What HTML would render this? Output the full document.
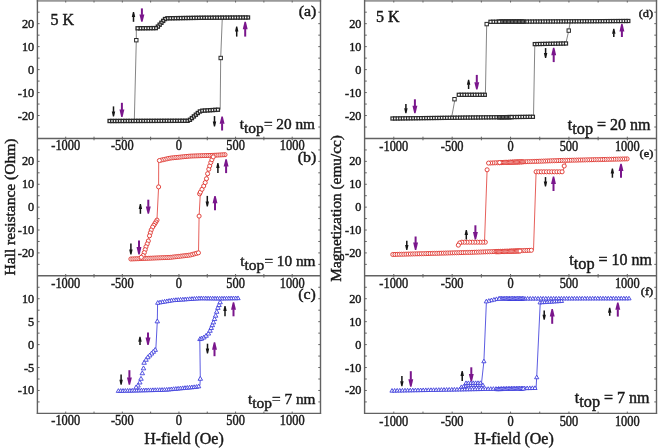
<!DOCTYPE html>
<html><head><meta charset="utf-8"><style>
html,body{margin:0;padding:0;background:#fff;}
body{width:658px;height:448px;overflow:hidden;}
svg{display:block;}
text{font-family:"Liberation Serif",serif;fill:#1a1a1a;stroke:#1a1a1a;stroke-width:0.45px;}
</style></head><body>
<svg width="658" height="448" viewBox="0 0 658 448">
<defs><filter id="bl" x="0" y="0" width="658" height="448" filterUnits="userSpaceOnUse"><feGaussianBlur stdDeviation="0.4"/></filter></defs>
<rect width="658" height="448" fill="#fff"/>
<g filter="url(#bl)">
<rect width="658" height="448" fill="#fff"/>
<line x1="36.80" y1="0.90" x2="321.10" y2="0.90" stroke="#999" stroke-width="1.8" opacity="1"/>
<line x1="37.40" y1="0.00" x2="37.40" y2="414.00" stroke="#626262" stroke-width="1.4" opacity="1"/>
<line x1="320.50" y1="0.00" x2="320.50" y2="414.00" stroke="#626262" stroke-width="1.4" opacity="1"/>
<line x1="36.80" y1="413.40" x2="321.10" y2="413.40" stroke="#626262" stroke-width="1.4" opacity="1"/>
<line x1="37.40" y1="138.50" x2="320.50" y2="138.50" stroke="#626262" stroke-width="1.4" opacity="1"/>
<line x1="37.40" y1="275.80" x2="320.50" y2="275.80" stroke="#626262" stroke-width="1.4" opacity="1"/>
<line x1="65.71" y1="138.50" x2="65.71" y2="136.70" stroke="#626262" stroke-width="1.0" opacity="1"/>
<line x1="65.71" y1="0.70" x2="65.71" y2="2.50" stroke="#626262" stroke-width="1.0" opacity="1"/>
<line x1="94.02" y1="138.50" x2="94.02" y2="136.70" stroke="#626262" stroke-width="1.0" opacity="1"/>
<line x1="94.02" y1="0.70" x2="94.02" y2="2.50" stroke="#626262" stroke-width="1.0" opacity="1"/>
<line x1="122.33" y1="138.50" x2="122.33" y2="136.70" stroke="#626262" stroke-width="1.0" opacity="1"/>
<line x1="122.33" y1="0.70" x2="122.33" y2="2.50" stroke="#626262" stroke-width="1.0" opacity="1"/>
<line x1="150.64" y1="138.50" x2="150.64" y2="136.70" stroke="#626262" stroke-width="1.0" opacity="1"/>
<line x1="150.64" y1="0.70" x2="150.64" y2="2.50" stroke="#626262" stroke-width="1.0" opacity="1"/>
<line x1="178.95" y1="138.50" x2="178.95" y2="136.70" stroke="#626262" stroke-width="1.0" opacity="1"/>
<line x1="178.95" y1="0.70" x2="178.95" y2="2.50" stroke="#626262" stroke-width="1.0" opacity="1"/>
<line x1="207.26" y1="138.50" x2="207.26" y2="136.70" stroke="#626262" stroke-width="1.0" opacity="1"/>
<line x1="207.26" y1="0.70" x2="207.26" y2="2.50" stroke="#626262" stroke-width="1.0" opacity="1"/>
<line x1="235.57" y1="138.50" x2="235.57" y2="136.70" stroke="#626262" stroke-width="1.0" opacity="1"/>
<line x1="235.57" y1="0.70" x2="235.57" y2="2.50" stroke="#626262" stroke-width="1.0" opacity="1"/>
<line x1="263.88" y1="138.50" x2="263.88" y2="136.70" stroke="#626262" stroke-width="1.0" opacity="1"/>
<line x1="263.88" y1="0.70" x2="263.88" y2="2.50" stroke="#626262" stroke-width="1.0" opacity="1"/>
<line x1="292.19" y1="138.50" x2="292.19" y2="136.70" stroke="#626262" stroke-width="1.0" opacity="1"/>
<line x1="292.19" y1="0.70" x2="292.19" y2="2.50" stroke="#626262" stroke-width="1.0" opacity="1"/>
<line x1="37.40" y1="127.02" x2="39.60" y2="127.02" stroke="#626262" stroke-width="1.0" opacity="1"/>
<line x1="320.50" y1="127.02" x2="318.30" y2="127.02" stroke="#626262" stroke-width="1.0" opacity="1"/>
<line x1="37.40" y1="115.53" x2="39.60" y2="115.53" stroke="#626262" stroke-width="1.0" opacity="1"/>
<line x1="320.50" y1="115.53" x2="318.30" y2="115.53" stroke="#626262" stroke-width="1.0" opacity="1"/>
<line x1="37.40" y1="104.05" x2="39.60" y2="104.05" stroke="#626262" stroke-width="1.0" opacity="1"/>
<line x1="320.50" y1="104.05" x2="318.30" y2="104.05" stroke="#626262" stroke-width="1.0" opacity="1"/>
<line x1="37.40" y1="92.57" x2="39.60" y2="92.57" stroke="#626262" stroke-width="1.0" opacity="1"/>
<line x1="320.50" y1="92.57" x2="318.30" y2="92.57" stroke="#626262" stroke-width="1.0" opacity="1"/>
<line x1="37.40" y1="81.08" x2="39.60" y2="81.08" stroke="#626262" stroke-width="1.0" opacity="1"/>
<line x1="320.50" y1="81.08" x2="318.30" y2="81.08" stroke="#626262" stroke-width="1.0" opacity="1"/>
<line x1="37.40" y1="69.60" x2="39.60" y2="69.60" stroke="#626262" stroke-width="1.0" opacity="1"/>
<line x1="320.50" y1="69.60" x2="318.30" y2="69.60" stroke="#626262" stroke-width="1.0" opacity="1"/>
<line x1="37.40" y1="58.12" x2="39.60" y2="58.12" stroke="#626262" stroke-width="1.0" opacity="1"/>
<line x1="320.50" y1="58.12" x2="318.30" y2="58.12" stroke="#626262" stroke-width="1.0" opacity="1"/>
<line x1="37.40" y1="46.63" x2="39.60" y2="46.63" stroke="#626262" stroke-width="1.0" opacity="1"/>
<line x1="320.50" y1="46.63" x2="318.30" y2="46.63" stroke="#626262" stroke-width="1.0" opacity="1"/>
<line x1="37.40" y1="35.15" x2="39.60" y2="35.15" stroke="#626262" stroke-width="1.0" opacity="1"/>
<line x1="320.50" y1="35.15" x2="318.30" y2="35.15" stroke="#626262" stroke-width="1.0" opacity="1"/>
<line x1="37.40" y1="23.67" x2="39.60" y2="23.67" stroke="#626262" stroke-width="1.0" opacity="1"/>
<line x1="320.50" y1="23.67" x2="318.30" y2="23.67" stroke="#626262" stroke-width="1.0" opacity="1"/>
<line x1="37.40" y1="12.18" x2="39.60" y2="12.18" stroke="#626262" stroke-width="1.0" opacity="1"/>
<line x1="320.50" y1="12.18" x2="318.30" y2="12.18" stroke="#626262" stroke-width="1.0" opacity="1"/>
<text transform="translate(34.20,27.67) scale(0.95,1)" font-size="12.9" text-anchor="end">20</text>
<text transform="translate(34.20,50.63) scale(0.95,1)" font-size="12.9" text-anchor="end">10</text>
<text transform="translate(34.20,73.60) scale(0.95,1)" font-size="12.9" text-anchor="end">0</text>
<text transform="translate(34.20,96.57) scale(0.95,1)" font-size="12.9" text-anchor="end">-10</text>
<text transform="translate(34.20,119.53) scale(0.95,1)" font-size="12.9" text-anchor="end">-20</text>
<text transform="translate(65.71,150.30) scale(0.91,1)" font-size="13.6" text-anchor="middle">-1000</text>
<text transform="translate(122.33,150.30) scale(0.91,1)" font-size="13.6" text-anchor="middle">-500</text>
<text transform="translate(178.95,150.30) scale(0.91,1)" font-size="13.6" text-anchor="middle">0</text>
<text transform="translate(235.57,150.30) scale(0.91,1)" font-size="13.6" text-anchor="middle">500</text>
<text transform="translate(292.19,150.30) scale(0.91,1)" font-size="13.6" text-anchor="middle">1000</text>
<line x1="65.71" y1="275.80" x2="65.71" y2="274.00" stroke="#626262" stroke-width="1.0" opacity="1"/>
<line x1="65.71" y1="138.50" x2="65.71" y2="140.30" stroke="#626262" stroke-width="1.0" opacity="1"/>
<line x1="94.02" y1="275.80" x2="94.02" y2="274.00" stroke="#626262" stroke-width="1.0" opacity="1"/>
<line x1="94.02" y1="138.50" x2="94.02" y2="140.30" stroke="#626262" stroke-width="1.0" opacity="1"/>
<line x1="122.33" y1="275.80" x2="122.33" y2="274.00" stroke="#626262" stroke-width="1.0" opacity="1"/>
<line x1="122.33" y1="138.50" x2="122.33" y2="140.30" stroke="#626262" stroke-width="1.0" opacity="1"/>
<line x1="150.64" y1="275.80" x2="150.64" y2="274.00" stroke="#626262" stroke-width="1.0" opacity="1"/>
<line x1="150.64" y1="138.50" x2="150.64" y2="140.30" stroke="#626262" stroke-width="1.0" opacity="1"/>
<line x1="178.95" y1="275.80" x2="178.95" y2="274.00" stroke="#626262" stroke-width="1.0" opacity="1"/>
<line x1="178.95" y1="138.50" x2="178.95" y2="140.30" stroke="#626262" stroke-width="1.0" opacity="1"/>
<line x1="207.26" y1="275.80" x2="207.26" y2="274.00" stroke="#626262" stroke-width="1.0" opacity="1"/>
<line x1="207.26" y1="138.50" x2="207.26" y2="140.30" stroke="#626262" stroke-width="1.0" opacity="1"/>
<line x1="235.57" y1="275.80" x2="235.57" y2="274.00" stroke="#626262" stroke-width="1.0" opacity="1"/>
<line x1="235.57" y1="138.50" x2="235.57" y2="140.30" stroke="#626262" stroke-width="1.0" opacity="1"/>
<line x1="263.88" y1="275.80" x2="263.88" y2="274.00" stroke="#626262" stroke-width="1.0" opacity="1"/>
<line x1="263.88" y1="138.50" x2="263.88" y2="140.30" stroke="#626262" stroke-width="1.0" opacity="1"/>
<line x1="292.19" y1="275.80" x2="292.19" y2="274.00" stroke="#626262" stroke-width="1.0" opacity="1"/>
<line x1="292.19" y1="138.50" x2="292.19" y2="140.30" stroke="#626262" stroke-width="1.0" opacity="1"/>
<line x1="37.40" y1="264.36" x2="39.60" y2="264.36" stroke="#626262" stroke-width="1.0" opacity="1"/>
<line x1="320.50" y1="264.36" x2="318.30" y2="264.36" stroke="#626262" stroke-width="1.0" opacity="1"/>
<line x1="37.40" y1="252.92" x2="39.60" y2="252.92" stroke="#626262" stroke-width="1.0" opacity="1"/>
<line x1="320.50" y1="252.92" x2="318.30" y2="252.92" stroke="#626262" stroke-width="1.0" opacity="1"/>
<line x1="37.40" y1="241.48" x2="39.60" y2="241.48" stroke="#626262" stroke-width="1.0" opacity="1"/>
<line x1="320.50" y1="241.48" x2="318.30" y2="241.48" stroke="#626262" stroke-width="1.0" opacity="1"/>
<line x1="37.40" y1="230.03" x2="39.60" y2="230.03" stroke="#626262" stroke-width="1.0" opacity="1"/>
<line x1="320.50" y1="230.03" x2="318.30" y2="230.03" stroke="#626262" stroke-width="1.0" opacity="1"/>
<line x1="37.40" y1="218.59" x2="39.60" y2="218.59" stroke="#626262" stroke-width="1.0" opacity="1"/>
<line x1="320.50" y1="218.59" x2="318.30" y2="218.59" stroke="#626262" stroke-width="1.0" opacity="1"/>
<line x1="37.40" y1="207.15" x2="39.60" y2="207.15" stroke="#626262" stroke-width="1.0" opacity="1"/>
<line x1="320.50" y1="207.15" x2="318.30" y2="207.15" stroke="#626262" stroke-width="1.0" opacity="1"/>
<line x1="37.40" y1="195.71" x2="39.60" y2="195.71" stroke="#626262" stroke-width="1.0" opacity="1"/>
<line x1="320.50" y1="195.71" x2="318.30" y2="195.71" stroke="#626262" stroke-width="1.0" opacity="1"/>
<line x1="37.40" y1="184.27" x2="39.60" y2="184.27" stroke="#626262" stroke-width="1.0" opacity="1"/>
<line x1="320.50" y1="184.27" x2="318.30" y2="184.27" stroke="#626262" stroke-width="1.0" opacity="1"/>
<line x1="37.40" y1="172.82" x2="39.60" y2="172.82" stroke="#626262" stroke-width="1.0" opacity="1"/>
<line x1="320.50" y1="172.82" x2="318.30" y2="172.82" stroke="#626262" stroke-width="1.0" opacity="1"/>
<line x1="37.40" y1="161.38" x2="39.60" y2="161.38" stroke="#626262" stroke-width="1.0" opacity="1"/>
<line x1="320.50" y1="161.38" x2="318.30" y2="161.38" stroke="#626262" stroke-width="1.0" opacity="1"/>
<line x1="37.40" y1="149.94" x2="39.60" y2="149.94" stroke="#626262" stroke-width="1.0" opacity="1"/>
<line x1="320.50" y1="149.94" x2="318.30" y2="149.94" stroke="#626262" stroke-width="1.0" opacity="1"/>
<text transform="translate(34.20,165.38) scale(0.95,1)" font-size="12.9" text-anchor="end">20</text>
<text transform="translate(34.20,188.27) scale(0.95,1)" font-size="12.9" text-anchor="end">10</text>
<text transform="translate(34.20,211.15) scale(0.95,1)" font-size="12.9" text-anchor="end">0</text>
<text transform="translate(34.20,234.03) scale(0.95,1)" font-size="12.9" text-anchor="end">-10</text>
<text transform="translate(34.20,256.92) scale(0.95,1)" font-size="12.9" text-anchor="end">-20</text>
<text transform="translate(65.71,287.60) scale(0.91,1)" font-size="13.6" text-anchor="middle">-1000</text>
<text transform="translate(122.33,287.60) scale(0.91,1)" font-size="13.6" text-anchor="middle">-500</text>
<text transform="translate(178.95,287.60) scale(0.91,1)" font-size="13.6" text-anchor="middle">0</text>
<text transform="translate(235.57,287.60) scale(0.91,1)" font-size="13.6" text-anchor="middle">500</text>
<text transform="translate(292.19,287.60) scale(0.91,1)" font-size="13.6" text-anchor="middle">1000</text>
<line x1="65.71" y1="413.40" x2="65.71" y2="411.60" stroke="#626262" stroke-width="1.0" opacity="1"/>
<line x1="65.71" y1="275.80" x2="65.71" y2="277.60" stroke="#626262" stroke-width="1.0" opacity="1"/>
<line x1="94.02" y1="413.40" x2="94.02" y2="411.60" stroke="#626262" stroke-width="1.0" opacity="1"/>
<line x1="94.02" y1="275.80" x2="94.02" y2="277.60" stroke="#626262" stroke-width="1.0" opacity="1"/>
<line x1="122.33" y1="413.40" x2="122.33" y2="411.60" stroke="#626262" stroke-width="1.0" opacity="1"/>
<line x1="122.33" y1="275.80" x2="122.33" y2="277.60" stroke="#626262" stroke-width="1.0" opacity="1"/>
<line x1="150.64" y1="413.40" x2="150.64" y2="411.60" stroke="#626262" stroke-width="1.0" opacity="1"/>
<line x1="150.64" y1="275.80" x2="150.64" y2="277.60" stroke="#626262" stroke-width="1.0" opacity="1"/>
<line x1="178.95" y1="413.40" x2="178.95" y2="411.60" stroke="#626262" stroke-width="1.0" opacity="1"/>
<line x1="178.95" y1="275.80" x2="178.95" y2="277.60" stroke="#626262" stroke-width="1.0" opacity="1"/>
<line x1="207.26" y1="413.40" x2="207.26" y2="411.60" stroke="#626262" stroke-width="1.0" opacity="1"/>
<line x1="207.26" y1="275.80" x2="207.26" y2="277.60" stroke="#626262" stroke-width="1.0" opacity="1"/>
<line x1="235.57" y1="413.40" x2="235.57" y2="411.60" stroke="#626262" stroke-width="1.0" opacity="1"/>
<line x1="235.57" y1="275.80" x2="235.57" y2="277.60" stroke="#626262" stroke-width="1.0" opacity="1"/>
<line x1="263.88" y1="413.40" x2="263.88" y2="411.60" stroke="#626262" stroke-width="1.0" opacity="1"/>
<line x1="263.88" y1="275.80" x2="263.88" y2="277.60" stroke="#626262" stroke-width="1.0" opacity="1"/>
<line x1="292.19" y1="413.40" x2="292.19" y2="411.60" stroke="#626262" stroke-width="1.0" opacity="1"/>
<line x1="292.19" y1="275.80" x2="292.19" y2="277.60" stroke="#626262" stroke-width="1.0" opacity="1"/>
<line x1="37.40" y1="401.93" x2="39.60" y2="401.93" stroke="#626262" stroke-width="1.0" opacity="1"/>
<line x1="320.50" y1="401.93" x2="318.30" y2="401.93" stroke="#626262" stroke-width="1.0" opacity="1"/>
<line x1="37.40" y1="390.47" x2="39.60" y2="390.47" stroke="#626262" stroke-width="1.0" opacity="1"/>
<line x1="320.50" y1="390.47" x2="318.30" y2="390.47" stroke="#626262" stroke-width="1.0" opacity="1"/>
<line x1="37.40" y1="379.00" x2="39.60" y2="379.00" stroke="#626262" stroke-width="1.0" opacity="1"/>
<line x1="320.50" y1="379.00" x2="318.30" y2="379.00" stroke="#626262" stroke-width="1.0" opacity="1"/>
<line x1="37.40" y1="367.53" x2="39.60" y2="367.53" stroke="#626262" stroke-width="1.0" opacity="1"/>
<line x1="320.50" y1="367.53" x2="318.30" y2="367.53" stroke="#626262" stroke-width="1.0" opacity="1"/>
<line x1="37.40" y1="356.07" x2="39.60" y2="356.07" stroke="#626262" stroke-width="1.0" opacity="1"/>
<line x1="320.50" y1="356.07" x2="318.30" y2="356.07" stroke="#626262" stroke-width="1.0" opacity="1"/>
<line x1="37.40" y1="344.60" x2="39.60" y2="344.60" stroke="#626262" stroke-width="1.0" opacity="1"/>
<line x1="320.50" y1="344.60" x2="318.30" y2="344.60" stroke="#626262" stroke-width="1.0" opacity="1"/>
<line x1="37.40" y1="333.13" x2="39.60" y2="333.13" stroke="#626262" stroke-width="1.0" opacity="1"/>
<line x1="320.50" y1="333.13" x2="318.30" y2="333.13" stroke="#626262" stroke-width="1.0" opacity="1"/>
<line x1="37.40" y1="321.67" x2="39.60" y2="321.67" stroke="#626262" stroke-width="1.0" opacity="1"/>
<line x1="320.50" y1="321.67" x2="318.30" y2="321.67" stroke="#626262" stroke-width="1.0" opacity="1"/>
<line x1="37.40" y1="310.20" x2="39.60" y2="310.20" stroke="#626262" stroke-width="1.0" opacity="1"/>
<line x1="320.50" y1="310.20" x2="318.30" y2="310.20" stroke="#626262" stroke-width="1.0" opacity="1"/>
<line x1="37.40" y1="298.73" x2="39.60" y2="298.73" stroke="#626262" stroke-width="1.0" opacity="1"/>
<line x1="320.50" y1="298.73" x2="318.30" y2="298.73" stroke="#626262" stroke-width="1.0" opacity="1"/>
<line x1="37.40" y1="287.27" x2="39.60" y2="287.27" stroke="#626262" stroke-width="1.0" opacity="1"/>
<line x1="320.50" y1="287.27" x2="318.30" y2="287.27" stroke="#626262" stroke-width="1.0" opacity="1"/>
<text transform="translate(34.20,302.73) scale(0.95,1)" font-size="12.9" text-anchor="end">10</text>
<text transform="translate(34.20,325.67) scale(0.95,1)" font-size="12.9" text-anchor="end">5</text>
<text transform="translate(34.20,348.60) scale(0.95,1)" font-size="12.9" text-anchor="end">0</text>
<text transform="translate(34.20,371.53) scale(0.95,1)" font-size="12.9" text-anchor="end">-5</text>
<text transform="translate(34.20,394.47) scale(0.95,1)" font-size="12.9" text-anchor="end">-10</text>
<text transform="translate(65.71,425.20) scale(0.91,1)" font-size="13.6" text-anchor="middle">-1000</text>
<text transform="translate(122.33,425.20) scale(0.91,1)" font-size="13.6" text-anchor="middle">-500</text>
<text transform="translate(178.95,425.20) scale(0.91,1)" font-size="13.6" text-anchor="middle">0</text>
<text transform="translate(235.57,425.20) scale(0.91,1)" font-size="13.6" text-anchor="middle">500</text>
<text transform="translate(292.19,425.20) scale(0.91,1)" font-size="13.6" text-anchor="middle">1000</text>
<line x1="364.00" y1="0.90" x2="657.10" y2="0.90" stroke="#999" stroke-width="1.8" opacity="1"/>
<line x1="364.60" y1="0.00" x2="364.60" y2="414.00" stroke="#626262" stroke-width="1.4" opacity="1"/>
<line x1="656.50" y1="0.00" x2="656.50" y2="414.00" stroke="#626262" stroke-width="1.4" opacity="1"/>
<line x1="364.00" y1="413.40" x2="657.10" y2="413.40" stroke="#626262" stroke-width="1.4" opacity="1"/>
<line x1="364.60" y1="138.50" x2="656.50" y2="138.50" stroke="#626262" stroke-width="1.4" opacity="1"/>
<line x1="364.60" y1="275.80" x2="656.50" y2="275.80" stroke="#626262" stroke-width="1.4" opacity="1"/>
<line x1="393.79" y1="138.50" x2="393.79" y2="136.70" stroke="#626262" stroke-width="1.0" opacity="1"/>
<line x1="393.79" y1="0.70" x2="393.79" y2="2.50" stroke="#626262" stroke-width="1.0" opacity="1"/>
<line x1="422.98" y1="138.50" x2="422.98" y2="136.70" stroke="#626262" stroke-width="1.0" opacity="1"/>
<line x1="422.98" y1="0.70" x2="422.98" y2="2.50" stroke="#626262" stroke-width="1.0" opacity="1"/>
<line x1="452.17" y1="138.50" x2="452.17" y2="136.70" stroke="#626262" stroke-width="1.0" opacity="1"/>
<line x1="452.17" y1="0.70" x2="452.17" y2="2.50" stroke="#626262" stroke-width="1.0" opacity="1"/>
<line x1="481.36" y1="138.50" x2="481.36" y2="136.70" stroke="#626262" stroke-width="1.0" opacity="1"/>
<line x1="481.36" y1="0.70" x2="481.36" y2="2.50" stroke="#626262" stroke-width="1.0" opacity="1"/>
<line x1="510.55" y1="138.50" x2="510.55" y2="136.70" stroke="#626262" stroke-width="1.0" opacity="1"/>
<line x1="510.55" y1="0.70" x2="510.55" y2="2.50" stroke="#626262" stroke-width="1.0" opacity="1"/>
<line x1="539.74" y1="138.50" x2="539.74" y2="136.70" stroke="#626262" stroke-width="1.0" opacity="1"/>
<line x1="539.74" y1="0.70" x2="539.74" y2="2.50" stroke="#626262" stroke-width="1.0" opacity="1"/>
<line x1="568.93" y1="138.50" x2="568.93" y2="136.70" stroke="#626262" stroke-width="1.0" opacity="1"/>
<line x1="568.93" y1="0.70" x2="568.93" y2="2.50" stroke="#626262" stroke-width="1.0" opacity="1"/>
<line x1="598.12" y1="138.50" x2="598.12" y2="136.70" stroke="#626262" stroke-width="1.0" opacity="1"/>
<line x1="598.12" y1="0.70" x2="598.12" y2="2.50" stroke="#626262" stroke-width="1.0" opacity="1"/>
<line x1="627.31" y1="138.50" x2="627.31" y2="136.70" stroke="#626262" stroke-width="1.0" opacity="1"/>
<line x1="627.31" y1="0.70" x2="627.31" y2="2.50" stroke="#626262" stroke-width="1.0" opacity="1"/>
<line x1="364.60" y1="127.02" x2="366.80" y2="127.02" stroke="#626262" stroke-width="1.0" opacity="1"/>
<line x1="656.50" y1="127.02" x2="654.30" y2="127.02" stroke="#626262" stroke-width="1.0" opacity="1"/>
<line x1="364.60" y1="115.53" x2="366.80" y2="115.53" stroke="#626262" stroke-width="1.0" opacity="1"/>
<line x1="656.50" y1="115.53" x2="654.30" y2="115.53" stroke="#626262" stroke-width="1.0" opacity="1"/>
<line x1="364.60" y1="104.05" x2="366.80" y2="104.05" stroke="#626262" stroke-width="1.0" opacity="1"/>
<line x1="656.50" y1="104.05" x2="654.30" y2="104.05" stroke="#626262" stroke-width="1.0" opacity="1"/>
<line x1="364.60" y1="92.57" x2="366.80" y2="92.57" stroke="#626262" stroke-width="1.0" opacity="1"/>
<line x1="656.50" y1="92.57" x2="654.30" y2="92.57" stroke="#626262" stroke-width="1.0" opacity="1"/>
<line x1="364.60" y1="81.08" x2="366.80" y2="81.08" stroke="#626262" stroke-width="1.0" opacity="1"/>
<line x1="656.50" y1="81.08" x2="654.30" y2="81.08" stroke="#626262" stroke-width="1.0" opacity="1"/>
<line x1="364.60" y1="69.60" x2="366.80" y2="69.60" stroke="#626262" stroke-width="1.0" opacity="1"/>
<line x1="656.50" y1="69.60" x2="654.30" y2="69.60" stroke="#626262" stroke-width="1.0" opacity="1"/>
<line x1="364.60" y1="58.12" x2="366.80" y2="58.12" stroke="#626262" stroke-width="1.0" opacity="1"/>
<line x1="656.50" y1="58.12" x2="654.30" y2="58.12" stroke="#626262" stroke-width="1.0" opacity="1"/>
<line x1="364.60" y1="46.63" x2="366.80" y2="46.63" stroke="#626262" stroke-width="1.0" opacity="1"/>
<line x1="656.50" y1="46.63" x2="654.30" y2="46.63" stroke="#626262" stroke-width="1.0" opacity="1"/>
<line x1="364.60" y1="35.15" x2="366.80" y2="35.15" stroke="#626262" stroke-width="1.0" opacity="1"/>
<line x1="656.50" y1="35.15" x2="654.30" y2="35.15" stroke="#626262" stroke-width="1.0" opacity="1"/>
<line x1="364.60" y1="23.67" x2="366.80" y2="23.67" stroke="#626262" stroke-width="1.0" opacity="1"/>
<line x1="656.50" y1="23.67" x2="654.30" y2="23.67" stroke="#626262" stroke-width="1.0" opacity="1"/>
<line x1="364.60" y1="12.18" x2="366.80" y2="12.18" stroke="#626262" stroke-width="1.0" opacity="1"/>
<line x1="656.50" y1="12.18" x2="654.30" y2="12.18" stroke="#626262" stroke-width="1.0" opacity="1"/>
<text transform="translate(361.40,27.67) scale(0.95,1)" font-size="12.9" text-anchor="end">20</text>
<text transform="translate(361.40,50.63) scale(0.95,1)" font-size="12.9" text-anchor="end">10</text>
<text transform="translate(361.40,73.60) scale(0.95,1)" font-size="12.9" text-anchor="end">0</text>
<text transform="translate(361.40,96.57) scale(0.95,1)" font-size="12.9" text-anchor="end">-10</text>
<text transform="translate(361.40,119.53) scale(0.95,1)" font-size="12.9" text-anchor="end">-20</text>
<text transform="translate(393.79,150.90) scale(0.91,1)" font-size="13.6" text-anchor="middle">-1000</text>
<text transform="translate(452.17,150.90) scale(0.91,1)" font-size="13.6" text-anchor="middle">-500</text>
<text transform="translate(510.55,150.90) scale(0.91,1)" font-size="13.6" text-anchor="middle">0</text>
<text transform="translate(568.93,150.90) scale(0.91,1)" font-size="13.6" text-anchor="middle">500</text>
<text transform="translate(627.31,150.90) scale(0.91,1)" font-size="13.6" text-anchor="middle">1000</text>
<line x1="393.79" y1="275.80" x2="393.79" y2="274.00" stroke="#626262" stroke-width="1.0" opacity="1"/>
<line x1="393.79" y1="138.50" x2="393.79" y2="140.30" stroke="#626262" stroke-width="1.0" opacity="1"/>
<line x1="422.98" y1="275.80" x2="422.98" y2="274.00" stroke="#626262" stroke-width="1.0" opacity="1"/>
<line x1="422.98" y1="138.50" x2="422.98" y2="140.30" stroke="#626262" stroke-width="1.0" opacity="1"/>
<line x1="452.17" y1="275.80" x2="452.17" y2="274.00" stroke="#626262" stroke-width="1.0" opacity="1"/>
<line x1="452.17" y1="138.50" x2="452.17" y2="140.30" stroke="#626262" stroke-width="1.0" opacity="1"/>
<line x1="481.36" y1="275.80" x2="481.36" y2="274.00" stroke="#626262" stroke-width="1.0" opacity="1"/>
<line x1="481.36" y1="138.50" x2="481.36" y2="140.30" stroke="#626262" stroke-width="1.0" opacity="1"/>
<line x1="510.55" y1="275.80" x2="510.55" y2="274.00" stroke="#626262" stroke-width="1.0" opacity="1"/>
<line x1="510.55" y1="138.50" x2="510.55" y2="140.30" stroke="#626262" stroke-width="1.0" opacity="1"/>
<line x1="539.74" y1="275.80" x2="539.74" y2="274.00" stroke="#626262" stroke-width="1.0" opacity="1"/>
<line x1="539.74" y1="138.50" x2="539.74" y2="140.30" stroke="#626262" stroke-width="1.0" opacity="1"/>
<line x1="568.93" y1="275.80" x2="568.93" y2="274.00" stroke="#626262" stroke-width="1.0" opacity="1"/>
<line x1="568.93" y1="138.50" x2="568.93" y2="140.30" stroke="#626262" stroke-width="1.0" opacity="1"/>
<line x1="598.12" y1="275.80" x2="598.12" y2="274.00" stroke="#626262" stroke-width="1.0" opacity="1"/>
<line x1="598.12" y1="138.50" x2="598.12" y2="140.30" stroke="#626262" stroke-width="1.0" opacity="1"/>
<line x1="627.31" y1="275.80" x2="627.31" y2="274.00" stroke="#626262" stroke-width="1.0" opacity="1"/>
<line x1="627.31" y1="138.50" x2="627.31" y2="140.30" stroke="#626262" stroke-width="1.0" opacity="1"/>
<line x1="364.60" y1="264.36" x2="366.80" y2="264.36" stroke="#626262" stroke-width="1.0" opacity="1"/>
<line x1="656.50" y1="264.36" x2="654.30" y2="264.36" stroke="#626262" stroke-width="1.0" opacity="1"/>
<line x1="364.60" y1="252.92" x2="366.80" y2="252.92" stroke="#626262" stroke-width="1.0" opacity="1"/>
<line x1="656.50" y1="252.92" x2="654.30" y2="252.92" stroke="#626262" stroke-width="1.0" opacity="1"/>
<line x1="364.60" y1="241.48" x2="366.80" y2="241.48" stroke="#626262" stroke-width="1.0" opacity="1"/>
<line x1="656.50" y1="241.48" x2="654.30" y2="241.48" stroke="#626262" stroke-width="1.0" opacity="1"/>
<line x1="364.60" y1="230.03" x2="366.80" y2="230.03" stroke="#626262" stroke-width="1.0" opacity="1"/>
<line x1="656.50" y1="230.03" x2="654.30" y2="230.03" stroke="#626262" stroke-width="1.0" opacity="1"/>
<line x1="364.60" y1="218.59" x2="366.80" y2="218.59" stroke="#626262" stroke-width="1.0" opacity="1"/>
<line x1="656.50" y1="218.59" x2="654.30" y2="218.59" stroke="#626262" stroke-width="1.0" opacity="1"/>
<line x1="364.60" y1="207.15" x2="366.80" y2="207.15" stroke="#626262" stroke-width="1.0" opacity="1"/>
<line x1="656.50" y1="207.15" x2="654.30" y2="207.15" stroke="#626262" stroke-width="1.0" opacity="1"/>
<line x1="364.60" y1="195.71" x2="366.80" y2="195.71" stroke="#626262" stroke-width="1.0" opacity="1"/>
<line x1="656.50" y1="195.71" x2="654.30" y2="195.71" stroke="#626262" stroke-width="1.0" opacity="1"/>
<line x1="364.60" y1="184.27" x2="366.80" y2="184.27" stroke="#626262" stroke-width="1.0" opacity="1"/>
<line x1="656.50" y1="184.27" x2="654.30" y2="184.27" stroke="#626262" stroke-width="1.0" opacity="1"/>
<line x1="364.60" y1="172.82" x2="366.80" y2="172.82" stroke="#626262" stroke-width="1.0" opacity="1"/>
<line x1="656.50" y1="172.82" x2="654.30" y2="172.82" stroke="#626262" stroke-width="1.0" opacity="1"/>
<line x1="364.60" y1="161.38" x2="366.80" y2="161.38" stroke="#626262" stroke-width="1.0" opacity="1"/>
<line x1="656.50" y1="161.38" x2="654.30" y2="161.38" stroke="#626262" stroke-width="1.0" opacity="1"/>
<line x1="364.60" y1="149.94" x2="366.80" y2="149.94" stroke="#626262" stroke-width="1.0" opacity="1"/>
<line x1="656.50" y1="149.94" x2="654.30" y2="149.94" stroke="#626262" stroke-width="1.0" opacity="1"/>
<text transform="translate(361.40,165.38) scale(0.95,1)" font-size="12.9" text-anchor="end">20</text>
<text transform="translate(361.40,188.27) scale(0.95,1)" font-size="12.9" text-anchor="end">10</text>
<text transform="translate(361.40,211.15) scale(0.95,1)" font-size="12.9" text-anchor="end">0</text>
<text transform="translate(361.40,234.03) scale(0.95,1)" font-size="12.9" text-anchor="end">-10</text>
<text transform="translate(361.40,256.92) scale(0.95,1)" font-size="12.9" text-anchor="end">-20</text>
<text transform="translate(393.79,288.20) scale(0.91,1)" font-size="13.6" text-anchor="middle">-1000</text>
<text transform="translate(452.17,288.20) scale(0.91,1)" font-size="13.6" text-anchor="middle">-500</text>
<text transform="translate(510.55,288.20) scale(0.91,1)" font-size="13.6" text-anchor="middle">0</text>
<text transform="translate(568.93,288.20) scale(0.91,1)" font-size="13.6" text-anchor="middle">500</text>
<text transform="translate(627.31,288.20) scale(0.91,1)" font-size="13.6" text-anchor="middle">1000</text>
<line x1="393.79" y1="413.40" x2="393.79" y2="411.60" stroke="#626262" stroke-width="1.0" opacity="1"/>
<line x1="393.79" y1="275.80" x2="393.79" y2="277.60" stroke="#626262" stroke-width="1.0" opacity="1"/>
<line x1="422.98" y1="413.40" x2="422.98" y2="411.60" stroke="#626262" stroke-width="1.0" opacity="1"/>
<line x1="422.98" y1="275.80" x2="422.98" y2="277.60" stroke="#626262" stroke-width="1.0" opacity="1"/>
<line x1="452.17" y1="413.40" x2="452.17" y2="411.60" stroke="#626262" stroke-width="1.0" opacity="1"/>
<line x1="452.17" y1="275.80" x2="452.17" y2="277.60" stroke="#626262" stroke-width="1.0" opacity="1"/>
<line x1="481.36" y1="413.40" x2="481.36" y2="411.60" stroke="#626262" stroke-width="1.0" opacity="1"/>
<line x1="481.36" y1="275.80" x2="481.36" y2="277.60" stroke="#626262" stroke-width="1.0" opacity="1"/>
<line x1="510.55" y1="413.40" x2="510.55" y2="411.60" stroke="#626262" stroke-width="1.0" opacity="1"/>
<line x1="510.55" y1="275.80" x2="510.55" y2="277.60" stroke="#626262" stroke-width="1.0" opacity="1"/>
<line x1="539.74" y1="413.40" x2="539.74" y2="411.60" stroke="#626262" stroke-width="1.0" opacity="1"/>
<line x1="539.74" y1="275.80" x2="539.74" y2="277.60" stroke="#626262" stroke-width="1.0" opacity="1"/>
<line x1="568.93" y1="413.40" x2="568.93" y2="411.60" stroke="#626262" stroke-width="1.0" opacity="1"/>
<line x1="568.93" y1="275.80" x2="568.93" y2="277.60" stroke="#626262" stroke-width="1.0" opacity="1"/>
<line x1="598.12" y1="413.40" x2="598.12" y2="411.60" stroke="#626262" stroke-width="1.0" opacity="1"/>
<line x1="598.12" y1="275.80" x2="598.12" y2="277.60" stroke="#626262" stroke-width="1.0" opacity="1"/>
<line x1="627.31" y1="413.40" x2="627.31" y2="411.60" stroke="#626262" stroke-width="1.0" opacity="1"/>
<line x1="627.31" y1="275.80" x2="627.31" y2="277.60" stroke="#626262" stroke-width="1.0" opacity="1"/>
<line x1="364.60" y1="401.93" x2="366.80" y2="401.93" stroke="#626262" stroke-width="1.0" opacity="1"/>
<line x1="656.50" y1="401.93" x2="654.30" y2="401.93" stroke="#626262" stroke-width="1.0" opacity="1"/>
<line x1="364.60" y1="390.47" x2="366.80" y2="390.47" stroke="#626262" stroke-width="1.0" opacity="1"/>
<line x1="656.50" y1="390.47" x2="654.30" y2="390.47" stroke="#626262" stroke-width="1.0" opacity="1"/>
<line x1="364.60" y1="379.00" x2="366.80" y2="379.00" stroke="#626262" stroke-width="1.0" opacity="1"/>
<line x1="656.50" y1="379.00" x2="654.30" y2="379.00" stroke="#626262" stroke-width="1.0" opacity="1"/>
<line x1="364.60" y1="367.53" x2="366.80" y2="367.53" stroke="#626262" stroke-width="1.0" opacity="1"/>
<line x1="656.50" y1="367.53" x2="654.30" y2="367.53" stroke="#626262" stroke-width="1.0" opacity="1"/>
<line x1="364.60" y1="356.07" x2="366.80" y2="356.07" stroke="#626262" stroke-width="1.0" opacity="1"/>
<line x1="656.50" y1="356.07" x2="654.30" y2="356.07" stroke="#626262" stroke-width="1.0" opacity="1"/>
<line x1="364.60" y1="344.60" x2="366.80" y2="344.60" stroke="#626262" stroke-width="1.0" opacity="1"/>
<line x1="656.50" y1="344.60" x2="654.30" y2="344.60" stroke="#626262" stroke-width="1.0" opacity="1"/>
<line x1="364.60" y1="333.13" x2="366.80" y2="333.13" stroke="#626262" stroke-width="1.0" opacity="1"/>
<line x1="656.50" y1="333.13" x2="654.30" y2="333.13" stroke="#626262" stroke-width="1.0" opacity="1"/>
<line x1="364.60" y1="321.67" x2="366.80" y2="321.67" stroke="#626262" stroke-width="1.0" opacity="1"/>
<line x1="656.50" y1="321.67" x2="654.30" y2="321.67" stroke="#626262" stroke-width="1.0" opacity="1"/>
<line x1="364.60" y1="310.20" x2="366.80" y2="310.20" stroke="#626262" stroke-width="1.0" opacity="1"/>
<line x1="656.50" y1="310.20" x2="654.30" y2="310.20" stroke="#626262" stroke-width="1.0" opacity="1"/>
<line x1="364.60" y1="298.73" x2="366.80" y2="298.73" stroke="#626262" stroke-width="1.0" opacity="1"/>
<line x1="656.50" y1="298.73" x2="654.30" y2="298.73" stroke="#626262" stroke-width="1.0" opacity="1"/>
<line x1="364.60" y1="287.27" x2="366.80" y2="287.27" stroke="#626262" stroke-width="1.0" opacity="1"/>
<line x1="656.50" y1="287.27" x2="654.30" y2="287.27" stroke="#626262" stroke-width="1.0" opacity="1"/>
<text transform="translate(361.40,302.73) scale(0.95,1)" font-size="12.9" text-anchor="end">20</text>
<text transform="translate(361.40,325.67) scale(0.95,1)" font-size="12.9" text-anchor="end">10</text>
<text transform="translate(361.40,348.60) scale(0.95,1)" font-size="12.9" text-anchor="end">0</text>
<text transform="translate(361.40,371.53) scale(0.95,1)" font-size="12.9" text-anchor="end">-10</text>
<text transform="translate(361.40,394.47) scale(0.95,1)" font-size="12.9" text-anchor="end">-20</text>
<text transform="translate(393.79,425.80) scale(0.91,1)" font-size="13.6" text-anchor="middle">-1000</text>
<text transform="translate(452.17,425.80) scale(0.91,1)" font-size="13.6" text-anchor="middle">-500</text>
<text transform="translate(510.55,425.80) scale(0.91,1)" font-size="13.6" text-anchor="middle">0</text>
<text transform="translate(568.93,425.80) scale(0.91,1)" font-size="13.6" text-anchor="middle">500</text>
<text transform="translate(627.31,425.80) scale(0.91,1)" font-size="13.6" text-anchor="middle">1000</text>
<text x="184.00" y="444.00" font-size="16" text-anchor="middle" >H-field (Oe)</text>
<text x="514.00" y="444.00" font-size="16" text-anchor="middle" >H-field (Oe)</text>
<text transform="translate(15.2,207) rotate(-90)" font-size="15.5" text-anchor="middle">Hall resistance (Ohm)</text>
<text transform="translate(340.5,208.4) rotate(-90)" font-size="15.3" text-anchor="middle">Magnetization (emu/cc)</text>
<text x="50.50" y="25.30" font-size="16" text-anchor="start" >5 K</text>
<text x="376.00" y="22.20" font-size="16" text-anchor="start" >5 K</text>
<text transform="translate(316.3,16.2) scale(1.06,1)" font-size="15" text-anchor="end">(a)</text>
<text transform="translate(316.3,162.4) scale(1.06,1)" font-size="15" text-anchor="end">(b)</text>
<text transform="translate(315.8,298.7) scale(1.06,1)" font-size="15" text-anchor="end">(c)</text>
<text transform="translate(653.2,17.0) scale(1.13,1)" font-size="11" text-anchor="end">(d)</text>
<text transform="translate(653.4,157.3) scale(1.13,1)" font-size="11" text-anchor="end">(e)</text>
<text transform="translate(653.2,295.3) scale(1.13,1)" font-size="11" text-anchor="end">(f)</text>
<text x="315.00" y="129.30" font-size="15.3" text-anchor="end">t<tspan font-size="15.5" dy="3.7">top</tspan><tspan dy="-3.7">= 20 nm</tspan></text>
<text x="315.50" y="266.00" font-size="15.3" text-anchor="end">t<tspan font-size="15.5" dy="3.7">top</tspan><tspan dy="-3.7">= 10 nm</tspan></text>
<text x="315.50" y="404.30" font-size="15.3" text-anchor="end">t<tspan font-size="15.5" dy="3.7">top</tspan><tspan dy="-3.7">= 7 nm</tspan></text>
<text x="650.50" y="129.80" font-size="16" text-anchor="end">t<tspan font-size="16.3" dy="3.7">top</tspan><tspan dy="-3.7"> = 20 nm</tspan></text>
<text x="652.00" y="265.10" font-size="16" text-anchor="end">t<tspan font-size="16.3" dy="3.7">top</tspan><tspan dy="-3.7"> = 10 nm</tspan></text>
<text x="649.50" y="402.80" font-size="16" text-anchor="end">t<tspan font-size="16.3" dy="3.7">top</tspan><tspan dy="-3.7"> = 7 nm</tspan></text>
<polyline points="136.30,28.30 136.30,40.20 134.30,121.00" fill="none" stroke="#666" stroke-width="0.8"/>
<polyline points="220.20,109.60 220.70,58.00 222.30,17.60" fill="none" stroke="#666" stroke-width="0.8"/>
<rect x="246.45" y="15.95" width="3.1" height="3.1" fill="#fff" stroke="#2a2a2a" stroke-width="1.3"/>
<rect x="243.85" y="15.97" width="3.1" height="3.1" fill="#fff" stroke="#2a2a2a" stroke-width="1.3"/>
<rect x="241.25" y="15.98" width="3.1" height="3.1" fill="#fff" stroke="#2a2a2a" stroke-width="1.3"/>
<rect x="238.65" y="16.00" width="3.1" height="3.1" fill="#fff" stroke="#2a2a2a" stroke-width="1.3"/>
<rect x="236.05" y="16.01" width="3.1" height="3.1" fill="#fff" stroke="#2a2a2a" stroke-width="1.3"/>
<rect x="233.45" y="16.03" width="3.1" height="3.1" fill="#fff" stroke="#2a2a2a" stroke-width="1.3"/>
<rect x="230.85" y="16.05" width="3.1" height="3.1" fill="#fff" stroke="#2a2a2a" stroke-width="1.3"/>
<rect x="228.25" y="16.06" width="3.1" height="3.1" fill="#fff" stroke="#2a2a2a" stroke-width="1.3"/>
<rect x="225.65" y="16.08" width="3.1" height="3.1" fill="#fff" stroke="#2a2a2a" stroke-width="1.3"/>
<rect x="223.05" y="16.10" width="3.1" height="3.1" fill="#fff" stroke="#2a2a2a" stroke-width="1.3"/>
<rect x="220.45" y="16.11" width="3.1" height="3.1" fill="#fff" stroke="#2a2a2a" stroke-width="1.3"/>
<rect x="217.85" y="16.13" width="3.1" height="3.1" fill="#fff" stroke="#2a2a2a" stroke-width="1.3"/>
<rect x="215.25" y="16.14" width="3.1" height="3.1" fill="#fff" stroke="#2a2a2a" stroke-width="1.3"/>
<rect x="212.65" y="16.16" width="3.1" height="3.1" fill="#fff" stroke="#2a2a2a" stroke-width="1.3"/>
<rect x="210.05" y="16.18" width="3.1" height="3.1" fill="#fff" stroke="#2a2a2a" stroke-width="1.3"/>
<rect x="207.45" y="16.19" width="3.1" height="3.1" fill="#fff" stroke="#2a2a2a" stroke-width="1.3"/>
<rect x="204.85" y="16.21" width="3.1" height="3.1" fill="#fff" stroke="#2a2a2a" stroke-width="1.3"/>
<rect x="202.25" y="16.23" width="3.1" height="3.1" fill="#fff" stroke="#2a2a2a" stroke-width="1.3"/>
<rect x="199.65" y="16.24" width="3.1" height="3.1" fill="#fff" stroke="#2a2a2a" stroke-width="1.3"/>
<rect x="197.05" y="16.27" width="3.1" height="3.1" fill="#fff" stroke="#2a2a2a" stroke-width="1.3"/>
<rect x="194.45" y="16.31" width="3.1" height="3.1" fill="#fff" stroke="#2a2a2a" stroke-width="1.3"/>
<rect x="191.85" y="16.35" width="3.1" height="3.1" fill="#fff" stroke="#2a2a2a" stroke-width="1.3"/>
<rect x="189.25" y="16.39" width="3.1" height="3.1" fill="#fff" stroke="#2a2a2a" stroke-width="1.3"/>
<rect x="186.65" y="16.43" width="3.1" height="3.1" fill="#fff" stroke="#2a2a2a" stroke-width="1.3"/>
<rect x="184.05" y="16.47" width="3.1" height="3.1" fill="#fff" stroke="#2a2a2a" stroke-width="1.3"/>
<rect x="181.45" y="16.51" width="3.1" height="3.1" fill="#fff" stroke="#2a2a2a" stroke-width="1.3"/>
<rect x="178.85" y="16.55" width="3.1" height="3.1" fill="#fff" stroke="#2a2a2a" stroke-width="1.3"/>
<rect x="176.25" y="16.59" width="3.1" height="3.1" fill="#fff" stroke="#2a2a2a" stroke-width="1.3"/>
<rect x="173.65" y="16.63" width="3.1" height="3.1" fill="#fff" stroke="#2a2a2a" stroke-width="1.3"/>
<rect x="171.05" y="16.67" width="3.1" height="3.1" fill="#fff" stroke="#2a2a2a" stroke-width="1.3"/>
<rect x="168.45" y="16.70" width="3.1" height="3.1" fill="#fff" stroke="#2a2a2a" stroke-width="1.3"/>
<rect x="165.85" y="16.74" width="3.1" height="3.1" fill="#fff" stroke="#2a2a2a" stroke-width="1.3"/>
<rect x="163.46" y="17.50" width="3.1" height="3.1" fill="#fff" stroke="#2a2a2a" stroke-width="1.3"/>
<rect x="161.62" y="19.34" width="3.1" height="3.1" fill="#fff" stroke="#2a2a2a" stroke-width="1.3"/>
<rect x="159.85" y="21.24" width="3.1" height="3.1" fill="#fff" stroke="#2a2a2a" stroke-width="1.3"/>
<rect x="158.09" y="23.15" width="3.1" height="3.1" fill="#fff" stroke="#2a2a2a" stroke-width="1.3"/>
<rect x="156.32" y="25.06" width="3.1" height="3.1" fill="#fff" stroke="#2a2a2a" stroke-width="1.3"/>
<rect x="154.25" y="26.55" width="3.1" height="3.1" fill="#fff" stroke="#2a2a2a" stroke-width="1.3"/>
<rect x="151.65" y="26.58" width="3.1" height="3.1" fill="#fff" stroke="#2a2a2a" stroke-width="1.3"/>
<rect x="149.05" y="26.60" width="3.1" height="3.1" fill="#fff" stroke="#2a2a2a" stroke-width="1.3"/>
<rect x="146.45" y="26.63" width="3.1" height="3.1" fill="#fff" stroke="#2a2a2a" stroke-width="1.3"/>
<rect x="143.85" y="26.66" width="3.1" height="3.1" fill="#fff" stroke="#2a2a2a" stroke-width="1.3"/>
<rect x="141.25" y="26.68" width="3.1" height="3.1" fill="#fff" stroke="#2a2a2a" stroke-width="1.3"/>
<rect x="138.65" y="26.71" width="3.1" height="3.1" fill="#fff" stroke="#2a2a2a" stroke-width="1.3"/>
<rect x="136.05" y="26.74" width="3.1" height="3.1" fill="#fff" stroke="#2a2a2a" stroke-width="1.3"/>
<rect x="108.05" y="119.45" width="3.1" height="3.1" fill="#fff" stroke="#2a2a2a" stroke-width="1.3"/>
<rect x="110.65" y="119.44" width="3.1" height="3.1" fill="#fff" stroke="#2a2a2a" stroke-width="1.3"/>
<rect x="113.25" y="119.44" width="3.1" height="3.1" fill="#fff" stroke="#2a2a2a" stroke-width="1.3"/>
<rect x="115.85" y="119.43" width="3.1" height="3.1" fill="#fff" stroke="#2a2a2a" stroke-width="1.3"/>
<rect x="118.45" y="119.42" width="3.1" height="3.1" fill="#fff" stroke="#2a2a2a" stroke-width="1.3"/>
<rect x="121.05" y="119.42" width="3.1" height="3.1" fill="#fff" stroke="#2a2a2a" stroke-width="1.3"/>
<rect x="123.65" y="119.41" width="3.1" height="3.1" fill="#fff" stroke="#2a2a2a" stroke-width="1.3"/>
<rect x="126.25" y="119.40" width="3.1" height="3.1" fill="#fff" stroke="#2a2a2a" stroke-width="1.3"/>
<rect x="128.85" y="119.40" width="3.1" height="3.1" fill="#fff" stroke="#2a2a2a" stroke-width="1.3"/>
<rect x="131.45" y="119.39" width="3.1" height="3.1" fill="#fff" stroke="#2a2a2a" stroke-width="1.3"/>
<rect x="134.05" y="119.38" width="3.1" height="3.1" fill="#fff" stroke="#2a2a2a" stroke-width="1.3"/>
<rect x="136.65" y="119.38" width="3.1" height="3.1" fill="#fff" stroke="#2a2a2a" stroke-width="1.3"/>
<rect x="139.25" y="119.37" width="3.1" height="3.1" fill="#fff" stroke="#2a2a2a" stroke-width="1.3"/>
<rect x="141.85" y="119.36" width="3.1" height="3.1" fill="#fff" stroke="#2a2a2a" stroke-width="1.3"/>
<rect x="144.45" y="119.36" width="3.1" height="3.1" fill="#fff" stroke="#2a2a2a" stroke-width="1.3"/>
<rect x="147.05" y="119.35" width="3.1" height="3.1" fill="#fff" stroke="#2a2a2a" stroke-width="1.3"/>
<rect x="149.65" y="119.34" width="3.1" height="3.1" fill="#fff" stroke="#2a2a2a" stroke-width="1.3"/>
<rect x="152.25" y="119.34" width="3.1" height="3.1" fill="#fff" stroke="#2a2a2a" stroke-width="1.3"/>
<rect x="154.85" y="119.33" width="3.1" height="3.1" fill="#fff" stroke="#2a2a2a" stroke-width="1.3"/>
<rect x="157.45" y="119.32" width="3.1" height="3.1" fill="#fff" stroke="#2a2a2a" stroke-width="1.3"/>
<rect x="160.05" y="119.32" width="3.1" height="3.1" fill="#fff" stroke="#2a2a2a" stroke-width="1.3"/>
<rect x="162.65" y="119.31" width="3.1" height="3.1" fill="#fff" stroke="#2a2a2a" stroke-width="1.3"/>
<rect x="165.25" y="119.30" width="3.1" height="3.1" fill="#fff" stroke="#2a2a2a" stroke-width="1.3"/>
<rect x="167.85" y="119.30" width="3.1" height="3.1" fill="#fff" stroke="#2a2a2a" stroke-width="1.3"/>
<rect x="170.45" y="119.29" width="3.1" height="3.1" fill="#fff" stroke="#2a2a2a" stroke-width="1.3"/>
<rect x="173.05" y="119.28" width="3.1" height="3.1" fill="#fff" stroke="#2a2a2a" stroke-width="1.3"/>
<rect x="175.65" y="119.28" width="3.1" height="3.1" fill="#fff" stroke="#2a2a2a" stroke-width="1.3"/>
<rect x="178.25" y="119.27" width="3.1" height="3.1" fill="#fff" stroke="#2a2a2a" stroke-width="1.3"/>
<rect x="180.85" y="119.26" width="3.1" height="3.1" fill="#fff" stroke="#2a2a2a" stroke-width="1.3"/>
<rect x="183.45" y="119.26" width="3.1" height="3.1" fill="#fff" stroke="#2a2a2a" stroke-width="1.3"/>
<rect x="186.05" y="119.25" width="3.1" height="3.1" fill="#fff" stroke="#2a2a2a" stroke-width="1.3"/>
<rect x="188.39" y="118.24" width="3.1" height="3.1" fill="#fff" stroke="#2a2a2a" stroke-width="1.3"/>
<rect x="190.36" y="116.55" width="3.1" height="3.1" fill="#fff" stroke="#2a2a2a" stroke-width="1.3"/>
<rect x="192.34" y="114.85" width="3.1" height="3.1" fill="#fff" stroke="#2a2a2a" stroke-width="1.3"/>
<rect x="194.31" y="113.15" width="3.1" height="3.1" fill="#fff" stroke="#2a2a2a" stroke-width="1.3"/>
<rect x="196.28" y="111.46" width="3.1" height="3.1" fill="#fff" stroke="#2a2a2a" stroke-width="1.3"/>
<rect x="198.35" y="109.91" width="3.1" height="3.1" fill="#fff" stroke="#2a2a2a" stroke-width="1.3"/>
<rect x="200.77" y="109.17" width="3.1" height="3.1" fill="#fff" stroke="#2a2a2a" stroke-width="1.3"/>
<rect x="203.36" y="109.00" width="3.1" height="3.1" fill="#fff" stroke="#2a2a2a" stroke-width="1.3"/>
<rect x="205.96" y="108.83" width="3.1" height="3.1" fill="#fff" stroke="#2a2a2a" stroke-width="1.3"/>
<rect x="208.55" y="108.67" width="3.1" height="3.1" fill="#fff" stroke="#2a2a2a" stroke-width="1.3"/>
<rect x="211.15" y="108.50" width="3.1" height="3.1" fill="#fff" stroke="#2a2a2a" stroke-width="1.3"/>
<rect x="213.74" y="108.34" width="3.1" height="3.1" fill="#fff" stroke="#2a2a2a" stroke-width="1.3"/>
<rect x="216.34" y="108.17" width="3.1" height="3.1" fill="#fff" stroke="#2a2a2a" stroke-width="1.3"/>
<rect x="134.60" y="38.50" width="3.4" height="3.4" fill="#fff" stroke="#2a2a2a" stroke-width="1.0"/>
<rect x="219.00" y="56.30" width="3.4" height="3.4" fill="#fff" stroke="#2a2a2a" stroke-width="1.0"/>
<line x1="133.5" y1="16.5" x2="133.5" y2="21.8" stroke="#141414" stroke-width="1.5"/>
<polygon points="132.9,12 134.1,12 135.2,17.0 131.8,17.0" fill="#141414"/>
<line x1="141.9" y1="8.4" x2="141.9" y2="14.9" stroke="#7a168c" stroke-width="2.0"/>
<polygon points="141.20000000000002,21.8 142.6,21.8 144.35,14.4 139.45000000000002,14.4" fill="#7a168c"/>
<line x1="236.7" y1="31.0" x2="236.7" y2="36.6" stroke="#141414" stroke-width="1.5"/>
<polygon points="236.1,26.5 237.29999999999998,26.5 238.39999999999998,31.5 235.0,31.5" fill="#141414"/>
<line x1="245.2" y1="28.700000000000003" x2="245.2" y2="36.6" stroke="#7a168c" stroke-width="2.0"/>
<polygon points="244.5,21.8 245.89999999999998,21.8 247.64999999999998,29.200000000000003 242.75,29.200000000000003" fill="#7a168c"/>
<line x1="113.5" y1="106.4" x2="113.5" y2="111.9" stroke="#141414" stroke-width="1.5"/>
<polygon points="112.9,116.4 114.1,116.4 115.2,111.4 111.8,111.4" fill="#141414"/>
<line x1="121.9" y1="102.8" x2="121.9" y2="110.0" stroke="#7a168c" stroke-width="2.0"/>
<polygon points="121.2,116.9 122.60000000000001,116.9 124.35000000000001,109.5 119.45,109.5" fill="#7a168c"/>
<line x1="214.5" y1="116.1" x2="214.5" y2="122.1" stroke="#141414" stroke-width="1.5"/>
<polygon points="213.9,126.6 215.1,126.6 216.2,121.6 212.8,121.6" fill="#141414"/>
<line x1="222.1" y1="123.30000000000001" x2="222.1" y2="130.5" stroke="#7a168c" stroke-width="2.0"/>
<polygon points="221.4,116.4 222.79999999999998,116.4 224.54999999999998,123.80000000000001 219.65,123.80000000000001" fill="#7a168c"/>
<polyline points="158.70,160.70 158.60,186.90 157.00,218.90 157.00,220.10 155.90,221.90 154.90,223.60 153.80,225.30 152.60,227.10 151.20,230.00 150.30,232.90 149.50,235.80 148.30,241.00 147.20,243.90 146.00,246.80 145.20,249.70 144.30,252.60 143.10,255.50 141.30,257.30 135.00,259.00" fill="none" stroke="#e2433d" stroke-width="0.85"/>
<polyline points="198.50,252.80 199.10,216.10 200.40,192.30 200.40,192.10 202.00,189.30 203.70,186.00 205.20,182.60 206.50,178.70 207.60,173.70 208.80,169.20 209.70,165.90 210.80,162.50 211.90,159.70 213.20,156.90 218.00,155.00" fill="none" stroke="#e2433d" stroke-width="0.85"/>
<polyline points="225.00,154.70 213.00,155.30 190.00,156.10 170.10,158.10 158.70,160.70" fill="none" stroke="#e2433d" stroke-width="0.8"/>
<polyline points="130.90,259.00 170.00,257.40 190.00,255.10 198.50,252.80" fill="none" stroke="#e2433d" stroke-width="0.8"/>
<circle cx="225.00" cy="154.70" r="2.05" fill="#fff" stroke="#e2433d" stroke-width="1.0"/>
<circle cx="223.00" cy="154.80" r="2.05" fill="#fff" stroke="#e2433d" stroke-width="1.0"/>
<circle cx="221.00" cy="154.90" r="2.05" fill="#fff" stroke="#e2433d" stroke-width="1.0"/>
<circle cx="219.01" cy="155.00" r="2.05" fill="#fff" stroke="#e2433d" stroke-width="1.0"/>
<circle cx="217.01" cy="155.10" r="2.05" fill="#fff" stroke="#e2433d" stroke-width="1.0"/>
<circle cx="215.01" cy="155.20" r="2.05" fill="#fff" stroke="#e2433d" stroke-width="1.0"/>
<circle cx="213.01" cy="155.30" r="2.05" fill="#fff" stroke="#e2433d" stroke-width="1.0"/>
<circle cx="211.02" cy="155.37" r="2.05" fill="#fff" stroke="#e2433d" stroke-width="1.0"/>
<circle cx="209.02" cy="155.44" r="2.05" fill="#fff" stroke="#e2433d" stroke-width="1.0"/>
<circle cx="207.02" cy="155.51" r="2.05" fill="#fff" stroke="#e2433d" stroke-width="1.0"/>
<circle cx="205.02" cy="155.58" r="2.05" fill="#fff" stroke="#e2433d" stroke-width="1.0"/>
<circle cx="203.02" cy="155.65" r="2.05" fill="#fff" stroke="#e2433d" stroke-width="1.0"/>
<circle cx="201.02" cy="155.72" r="2.05" fill="#fff" stroke="#e2433d" stroke-width="1.0"/>
<circle cx="199.02" cy="155.79" r="2.05" fill="#fff" stroke="#e2433d" stroke-width="1.0"/>
<circle cx="197.02" cy="155.86" r="2.05" fill="#fff" stroke="#e2433d" stroke-width="1.0"/>
<circle cx="195.03" cy="155.93" r="2.05" fill="#fff" stroke="#e2433d" stroke-width="1.0"/>
<circle cx="193.03" cy="155.99" r="2.05" fill="#fff" stroke="#e2433d" stroke-width="1.0"/>
<circle cx="191.03" cy="156.06" r="2.05" fill="#fff" stroke="#e2433d" stroke-width="1.0"/>
<circle cx="189.03" cy="156.20" r="2.05" fill="#fff" stroke="#e2433d" stroke-width="1.0"/>
<circle cx="187.04" cy="156.40" r="2.05" fill="#fff" stroke="#e2433d" stroke-width="1.0"/>
<circle cx="185.05" cy="156.60" r="2.05" fill="#fff" stroke="#e2433d" stroke-width="1.0"/>
<circle cx="183.06" cy="156.80" r="2.05" fill="#fff" stroke="#e2433d" stroke-width="1.0"/>
<circle cx="181.07" cy="157.00" r="2.05" fill="#fff" stroke="#e2433d" stroke-width="1.0"/>
<circle cx="179.08" cy="157.20" r="2.05" fill="#fff" stroke="#e2433d" stroke-width="1.0"/>
<circle cx="177.09" cy="157.40" r="2.05" fill="#fff" stroke="#e2433d" stroke-width="1.0"/>
<circle cx="175.10" cy="157.60" r="2.05" fill="#fff" stroke="#e2433d" stroke-width="1.0"/>
<circle cx="173.11" cy="157.80" r="2.05" fill="#fff" stroke="#e2433d" stroke-width="1.0"/>
<circle cx="171.12" cy="158.00" r="2.05" fill="#fff" stroke="#e2433d" stroke-width="1.0"/>
<circle cx="169.15" cy="158.32" r="2.05" fill="#fff" stroke="#e2433d" stroke-width="1.0"/>
<circle cx="167.20" cy="158.76" r="2.05" fill="#fff" stroke="#e2433d" stroke-width="1.0"/>
<circle cx="165.25" cy="159.21" r="2.05" fill="#fff" stroke="#e2433d" stroke-width="1.0"/>
<circle cx="163.30" cy="159.65" r="2.05" fill="#fff" stroke="#e2433d" stroke-width="1.0"/>
<circle cx="161.35" cy="160.09" r="2.05" fill="#fff" stroke="#e2433d" stroke-width="1.0"/>
<circle cx="159.40" cy="160.54" r="2.05" fill="#fff" stroke="#e2433d" stroke-width="1.0"/>
<circle cx="130.90" cy="259.00" r="2.05" fill="#fff" stroke="#e2433d" stroke-width="1.0"/>
<circle cx="132.90" cy="258.92" r="2.05" fill="#fff" stroke="#e2433d" stroke-width="1.0"/>
<circle cx="134.90" cy="258.84" r="2.05" fill="#fff" stroke="#e2433d" stroke-width="1.0"/>
<circle cx="136.89" cy="258.75" r="2.05" fill="#fff" stroke="#e2433d" stroke-width="1.0"/>
<circle cx="138.89" cy="258.67" r="2.05" fill="#fff" stroke="#e2433d" stroke-width="1.0"/>
<circle cx="140.89" cy="258.59" r="2.05" fill="#fff" stroke="#e2433d" stroke-width="1.0"/>
<circle cx="142.89" cy="258.51" r="2.05" fill="#fff" stroke="#e2433d" stroke-width="1.0"/>
<circle cx="144.89" cy="258.43" r="2.05" fill="#fff" stroke="#e2433d" stroke-width="1.0"/>
<circle cx="146.89" cy="258.35" r="2.05" fill="#fff" stroke="#e2433d" stroke-width="1.0"/>
<circle cx="148.88" cy="258.26" r="2.05" fill="#fff" stroke="#e2433d" stroke-width="1.0"/>
<circle cx="150.88" cy="258.18" r="2.05" fill="#fff" stroke="#e2433d" stroke-width="1.0"/>
<circle cx="152.88" cy="258.10" r="2.05" fill="#fff" stroke="#e2433d" stroke-width="1.0"/>
<circle cx="154.88" cy="258.02" r="2.05" fill="#fff" stroke="#e2433d" stroke-width="1.0"/>
<circle cx="156.88" cy="257.94" r="2.05" fill="#fff" stroke="#e2433d" stroke-width="1.0"/>
<circle cx="158.88" cy="257.86" r="2.05" fill="#fff" stroke="#e2433d" stroke-width="1.0"/>
<circle cx="160.87" cy="257.77" r="2.05" fill="#fff" stroke="#e2433d" stroke-width="1.0"/>
<circle cx="162.87" cy="257.69" r="2.05" fill="#fff" stroke="#e2433d" stroke-width="1.0"/>
<circle cx="164.87" cy="257.61" r="2.05" fill="#fff" stroke="#e2433d" stroke-width="1.0"/>
<circle cx="166.87" cy="257.53" r="2.05" fill="#fff" stroke="#e2433d" stroke-width="1.0"/>
<circle cx="168.87" cy="257.45" r="2.05" fill="#fff" stroke="#e2433d" stroke-width="1.0"/>
<circle cx="170.86" cy="257.30" r="2.05" fill="#fff" stroke="#e2433d" stroke-width="1.0"/>
<circle cx="172.85" cy="257.07" r="2.05" fill="#fff" stroke="#e2433d" stroke-width="1.0"/>
<circle cx="174.84" cy="256.84" r="2.05" fill="#fff" stroke="#e2433d" stroke-width="1.0"/>
<circle cx="176.82" cy="256.62" r="2.05" fill="#fff" stroke="#e2433d" stroke-width="1.0"/>
<circle cx="178.81" cy="256.39" r="2.05" fill="#fff" stroke="#e2433d" stroke-width="1.0"/>
<circle cx="180.80" cy="256.16" r="2.05" fill="#fff" stroke="#e2433d" stroke-width="1.0"/>
<circle cx="182.78" cy="255.93" r="2.05" fill="#fff" stroke="#e2433d" stroke-width="1.0"/>
<circle cx="184.77" cy="255.70" r="2.05" fill="#fff" stroke="#e2433d" stroke-width="1.0"/>
<circle cx="186.76" cy="255.47" r="2.05" fill="#fff" stroke="#e2433d" stroke-width="1.0"/>
<circle cx="188.74" cy="255.24" r="2.05" fill="#fff" stroke="#e2433d" stroke-width="1.0"/>
<circle cx="190.71" cy="254.91" r="2.05" fill="#fff" stroke="#e2433d" stroke-width="1.0"/>
<circle cx="192.64" cy="254.39" r="2.05" fill="#fff" stroke="#e2433d" stroke-width="1.0"/>
<circle cx="194.57" cy="253.86" r="2.05" fill="#fff" stroke="#e2433d" stroke-width="1.0"/>
<circle cx="196.50" cy="253.34" r="2.05" fill="#fff" stroke="#e2433d" stroke-width="1.0"/>
<circle cx="198.43" cy="252.82" r="2.05" fill="#fff" stroke="#e2433d" stroke-width="1.0"/>
<circle cx="157.00" cy="220.10" r="2.05" fill="#fff" stroke="#e2433d" stroke-width="1.0"/>
<circle cx="155.90" cy="221.90" r="2.05" fill="#fff" stroke="#e2433d" stroke-width="1.0"/>
<circle cx="154.90" cy="223.60" r="2.05" fill="#fff" stroke="#e2433d" stroke-width="1.0"/>
<circle cx="153.80" cy="225.30" r="2.05" fill="#fff" stroke="#e2433d" stroke-width="1.0"/>
<circle cx="152.60" cy="227.10" r="2.05" fill="#fff" stroke="#e2433d" stroke-width="1.0"/>
<circle cx="151.20" cy="230.00" r="2.05" fill="#fff" stroke="#e2433d" stroke-width="1.0"/>
<circle cx="150.30" cy="232.90" r="2.05" fill="#fff" stroke="#e2433d" stroke-width="1.0"/>
<circle cx="149.50" cy="235.80" r="2.05" fill="#fff" stroke="#e2433d" stroke-width="1.0"/>
<circle cx="148.30" cy="241.00" r="2.05" fill="#fff" stroke="#e2433d" stroke-width="1.0"/>
<circle cx="147.20" cy="243.90" r="2.05" fill="#fff" stroke="#e2433d" stroke-width="1.0"/>
<circle cx="146.00" cy="246.80" r="2.05" fill="#fff" stroke="#e2433d" stroke-width="1.0"/>
<circle cx="145.20" cy="249.70" r="2.05" fill="#fff" stroke="#e2433d" stroke-width="1.0"/>
<circle cx="144.30" cy="252.60" r="2.05" fill="#fff" stroke="#e2433d" stroke-width="1.0"/>
<circle cx="143.10" cy="255.50" r="2.05" fill="#fff" stroke="#e2433d" stroke-width="1.0"/>
<circle cx="141.30" cy="257.30" r="2.05" fill="#fff" stroke="#e2433d" stroke-width="1.0"/>
<circle cx="199.60" cy="193.80" r="2.05" fill="#fff" stroke="#e2433d" stroke-width="1.0"/>
<circle cx="200.40" cy="192.10" r="2.05" fill="#fff" stroke="#e2433d" stroke-width="1.0"/>
<circle cx="202.00" cy="189.30" r="2.05" fill="#fff" stroke="#e2433d" stroke-width="1.0"/>
<circle cx="203.70" cy="186.00" r="2.05" fill="#fff" stroke="#e2433d" stroke-width="1.0"/>
<circle cx="205.20" cy="182.60" r="2.05" fill="#fff" stroke="#e2433d" stroke-width="1.0"/>
<circle cx="206.50" cy="178.70" r="2.05" fill="#fff" stroke="#e2433d" stroke-width="1.0"/>
<circle cx="207.60" cy="173.70" r="2.05" fill="#fff" stroke="#e2433d" stroke-width="1.0"/>
<circle cx="208.80" cy="169.20" r="2.05" fill="#fff" stroke="#e2433d" stroke-width="1.0"/>
<circle cx="209.70" cy="165.90" r="2.05" fill="#fff" stroke="#e2433d" stroke-width="1.0"/>
<circle cx="210.80" cy="162.50" r="2.05" fill="#fff" stroke="#e2433d" stroke-width="1.0"/>
<circle cx="211.90" cy="159.70" r="2.05" fill="#fff" stroke="#e2433d" stroke-width="1.0"/>
<circle cx="213.20" cy="156.90" r="2.05" fill="#fff" stroke="#e2433d" stroke-width="1.0"/>
<circle cx="158.60" cy="186.90" r="2.05" fill="#fff" stroke="#e2433d" stroke-width="1.0"/>
<circle cx="199.10" cy="216.10" r="2.05" fill="#fff" stroke="#e2433d" stroke-width="1.0"/>
<line x1="140.4" y1="208.5" x2="140.4" y2="213.8" stroke="#141414" stroke-width="1.5"/>
<polygon points="139.8,204 141.0,204 142.1,209.0 138.70000000000002,209.0" fill="#141414"/>
<line x1="148.3" y1="199.7" x2="148.3" y2="206.9" stroke="#7a168c" stroke-width="2.0"/>
<polygon points="147.60000000000002,213.8 149.0,213.8 150.75,206.4 145.85000000000002,206.4" fill="#7a168c"/>
<line x1="217.9" y1="167.6" x2="217.9" y2="173.1" stroke="#141414" stroke-width="1.5"/>
<polygon points="217.3,163.1 218.5,163.1 219.6,168.1 216.20000000000002,168.1" fill="#141414"/>
<line x1="226.1" y1="166.1" x2="226.1" y2="173.1" stroke="#7a168c" stroke-width="2.0"/>
<polygon points="225.4,159.2 226.79999999999998,159.2 228.54999999999998,166.6 223.65,166.6" fill="#7a168c"/>
<line x1="207.3" y1="195.9" x2="207.3" y2="202.1" stroke="#141414" stroke-width="1.5"/>
<polygon points="206.70000000000002,206.6 207.9,206.6 209.0,201.6 205.60000000000002,201.6" fill="#141414"/>
<line x1="215" y1="202.8" x2="215" y2="210.2" stroke="#7a168c" stroke-width="2.0"/>
<polygon points="214.3,195.9 215.7,195.9 217.45,203.3 212.55,203.3" fill="#7a168c"/>
<line x1="130.9" y1="243.6" x2="130.9" y2="249.9" stroke="#141414" stroke-width="1.5"/>
<polygon points="130.3,254.4 131.5,254.4 132.6,249.4 129.20000000000002,249.4" fill="#141414"/>
<line x1="139" y1="240.4" x2="139" y2="247.5" stroke="#7a168c" stroke-width="2.0"/>
<polygon points="138.3,254.4 139.7,254.4 141.45,247.0 136.55,247.0" fill="#7a168c"/>
<polyline points="157.60,302.80 157.30,321.30 155.80,349.80" fill="none" stroke="#3f3fdc" stroke-width="0.85"/>
<polyline points="199.90,385.60 200.30,378.70 199.80,339.60" fill="none" stroke="#3f3fdc" stroke-width="0.85"/>
<polyline points="238.00,298.20 220.00,298.50 200.00,298.30 172.80,300.20 157.60,302.80" fill="none" stroke="#3f3fdc" stroke-width="0.8"/>
<polyline points="118.40,390.90 165.00,389.80 198.00,386.70 199.90,385.60" fill="none" stroke="#3f3fdc" stroke-width="0.8"/>
<polygon points="238.00,295.97 235.85,299.69 240.15,299.69" fill="#fff" stroke="#3f3fdc" stroke-width="0.9"/>
<polygon points="235.70,296.00 233.55,299.73 237.85,299.73" fill="#fff" stroke="#3f3fdc" stroke-width="0.9"/>
<polygon points="233.40,296.04 231.25,299.77 235.55,299.77" fill="#fff" stroke="#3f3fdc" stroke-width="0.9"/>
<polygon points="231.10,296.08 228.95,299.80 233.25,299.80" fill="#fff" stroke="#3f3fdc" stroke-width="0.9"/>
<polygon points="228.80,296.12 226.65,299.84 230.95,299.84" fill="#fff" stroke="#3f3fdc" stroke-width="0.9"/>
<polygon points="226.50,296.16 224.35,299.88 228.65,299.88" fill="#fff" stroke="#3f3fdc" stroke-width="0.9"/>
<polygon points="224.20,296.20 222.05,299.92 226.35,299.92" fill="#fff" stroke="#3f3fdc" stroke-width="0.9"/>
<polygon points="221.90,296.23 219.75,299.96 224.05,299.96" fill="#fff" stroke="#3f3fdc" stroke-width="0.9"/>
<polygon points="219.60,296.26 217.45,299.99 221.75,299.99" fill="#fff" stroke="#3f3fdc" stroke-width="0.9"/>
<polygon points="217.30,296.24 215.15,299.96 219.45,299.96" fill="#fff" stroke="#3f3fdc" stroke-width="0.9"/>
<polygon points="215.00,296.22 212.85,299.94 217.15,299.94" fill="#fff" stroke="#3f3fdc" stroke-width="0.9"/>
<polygon points="212.70,296.19 210.55,299.92 214.85,299.92" fill="#fff" stroke="#3f3fdc" stroke-width="0.9"/>
<polygon points="210.40,296.17 208.25,299.89 212.55,299.89" fill="#fff" stroke="#3f3fdc" stroke-width="0.9"/>
<polygon points="208.10,296.15 205.95,299.87 210.25,299.87" fill="#fff" stroke="#3f3fdc" stroke-width="0.9"/>
<polygon points="205.80,296.12 203.65,299.85 207.95,299.85" fill="#fff" stroke="#3f3fdc" stroke-width="0.9"/>
<polygon points="203.50,296.10 201.35,299.82 205.65,299.82" fill="#fff" stroke="#3f3fdc" stroke-width="0.9"/>
<polygon points="201.20,296.08 199.05,299.80 203.35,299.80" fill="#fff" stroke="#3f3fdc" stroke-width="0.9"/>
<polygon points="198.91,296.14 196.76,299.87 201.06,299.87" fill="#fff" stroke="#3f3fdc" stroke-width="0.9"/>
<polygon points="196.61,296.30 194.46,300.03 198.76,300.03" fill="#fff" stroke="#3f3fdc" stroke-width="0.9"/>
<polygon points="194.32,296.46 192.17,300.19 196.47,300.19" fill="#fff" stroke="#3f3fdc" stroke-width="0.9"/>
<polygon points="192.02,296.62 189.87,300.35 194.17,300.35" fill="#fff" stroke="#3f3fdc" stroke-width="0.9"/>
<polygon points="189.73,296.78 187.58,300.51 191.88,300.51" fill="#fff" stroke="#3f3fdc" stroke-width="0.9"/>
<polygon points="187.43,296.94 185.28,300.67 189.58,300.67" fill="#fff" stroke="#3f3fdc" stroke-width="0.9"/>
<polygon points="185.14,297.10 182.99,300.83 187.29,300.83" fill="#fff" stroke="#3f3fdc" stroke-width="0.9"/>
<polygon points="182.85,297.26 180.70,300.99 185.00,300.99" fill="#fff" stroke="#3f3fdc" stroke-width="0.9"/>
<polygon points="180.55,297.42 178.40,301.15 182.70,301.15" fill="#fff" stroke="#3f3fdc" stroke-width="0.9"/>
<polygon points="178.26,297.58 176.11,301.31 180.41,301.31" fill="#fff" stroke="#3f3fdc" stroke-width="0.9"/>
<polygon points="175.96,297.74 173.81,301.47 178.11,301.47" fill="#fff" stroke="#3f3fdc" stroke-width="0.9"/>
<polygon points="173.67,297.91 171.52,301.63 175.82,301.63" fill="#fff" stroke="#3f3fdc" stroke-width="0.9"/>
<polygon points="171.39,298.21 169.24,301.93 173.54,301.93" fill="#fff" stroke="#3f3fdc" stroke-width="0.9"/>
<polygon points="169.12,298.59 166.97,302.32 171.27,302.32" fill="#fff" stroke="#3f3fdc" stroke-width="0.9"/>
<polygon points="166.86,298.98 164.71,302.71 169.01,302.71" fill="#fff" stroke="#3f3fdc" stroke-width="0.9"/>
<polygon points="164.59,299.37 162.44,303.09 166.74,303.09" fill="#fff" stroke="#3f3fdc" stroke-width="0.9"/>
<polygon points="162.32,299.76 160.17,303.48 164.47,303.48" fill="#fff" stroke="#3f3fdc" stroke-width="0.9"/>
<polygon points="160.05,300.15 157.90,303.87 162.20,303.87" fill="#fff" stroke="#3f3fdc" stroke-width="0.9"/>
<polygon points="157.79,300.53 155.64,304.26 159.94,304.26" fill="#fff" stroke="#3f3fdc" stroke-width="0.9"/>
<polygon points="118.40,388.67 116.25,392.39 120.55,392.39" fill="#fff" stroke="#3f3fdc" stroke-width="0.9"/>
<polygon points="120.70,388.61 118.55,392.34 122.85,392.34" fill="#fff" stroke="#3f3fdc" stroke-width="0.9"/>
<polygon points="123.00,388.56 120.85,392.28 125.15,392.28" fill="#fff" stroke="#3f3fdc" stroke-width="0.9"/>
<polygon points="125.30,388.50 123.15,392.23 127.45,392.23" fill="#fff" stroke="#3f3fdc" stroke-width="0.9"/>
<polygon points="127.60,388.45 125.45,392.17 129.75,392.17" fill="#fff" stroke="#3f3fdc" stroke-width="0.9"/>
<polygon points="129.90,388.39 127.75,392.12 132.05,392.12" fill="#fff" stroke="#3f3fdc" stroke-width="0.9"/>
<polygon points="132.20,388.34 130.05,392.06 134.35,392.06" fill="#fff" stroke="#3f3fdc" stroke-width="0.9"/>
<polygon points="134.50,388.29 132.35,392.01 136.65,392.01" fill="#fff" stroke="#3f3fdc" stroke-width="0.9"/>
<polygon points="136.79,388.23 134.64,391.96 138.94,391.96" fill="#fff" stroke="#3f3fdc" stroke-width="0.9"/>
<polygon points="139.09,388.18 136.94,391.90 141.24,391.90" fill="#fff" stroke="#3f3fdc" stroke-width="0.9"/>
<polygon points="141.39,388.12 139.24,391.85 143.54,391.85" fill="#fff" stroke="#3f3fdc" stroke-width="0.9"/>
<polygon points="143.69,388.07 141.54,391.79 145.84,391.79" fill="#fff" stroke="#3f3fdc" stroke-width="0.9"/>
<polygon points="145.99,388.01 143.84,391.74 148.14,391.74" fill="#fff" stroke="#3f3fdc" stroke-width="0.9"/>
<polygon points="148.29,387.96 146.14,391.68 150.44,391.68" fill="#fff" stroke="#3f3fdc" stroke-width="0.9"/>
<polygon points="150.59,387.91 148.44,391.63 152.74,391.63" fill="#fff" stroke="#3f3fdc" stroke-width="0.9"/>
<polygon points="152.89,387.85 150.74,391.58 155.04,391.58" fill="#fff" stroke="#3f3fdc" stroke-width="0.9"/>
<polygon points="155.19,387.80 153.04,391.52 157.34,391.52" fill="#fff" stroke="#3f3fdc" stroke-width="0.9"/>
<polygon points="157.49,387.74 155.34,391.47 159.64,391.47" fill="#fff" stroke="#3f3fdc" stroke-width="0.9"/>
<polygon points="159.79,387.69 157.64,391.41 161.94,391.41" fill="#fff" stroke="#3f3fdc" stroke-width="0.9"/>
<polygon points="162.09,387.63 159.94,391.36 164.24,391.36" fill="#fff" stroke="#3f3fdc" stroke-width="0.9"/>
<polygon points="164.39,387.58 162.24,391.30 166.54,391.30" fill="#fff" stroke="#3f3fdc" stroke-width="0.9"/>
<polygon points="166.68,387.41 164.53,391.13 168.83,391.13" fill="#fff" stroke="#3f3fdc" stroke-width="0.9"/>
<polygon points="168.97,387.19 166.82,390.92 171.12,390.92" fill="#fff" stroke="#3f3fdc" stroke-width="0.9"/>
<polygon points="171.26,386.98 169.11,390.70 173.41,390.70" fill="#fff" stroke="#3f3fdc" stroke-width="0.9"/>
<polygon points="173.55,386.76 171.40,390.49 175.70,390.49" fill="#fff" stroke="#3f3fdc" stroke-width="0.9"/>
<polygon points="175.84,386.55 173.69,390.27 177.99,390.27" fill="#fff" stroke="#3f3fdc" stroke-width="0.9"/>
<polygon points="178.13,386.33 175.98,390.06 180.28,390.06" fill="#fff" stroke="#3f3fdc" stroke-width="0.9"/>
<polygon points="180.42,386.12 178.27,389.84 182.57,389.84" fill="#fff" stroke="#3f3fdc" stroke-width="0.9"/>
<polygon points="182.71,385.90 180.56,389.63 184.86,389.63" fill="#fff" stroke="#3f3fdc" stroke-width="0.9"/>
<polygon points="185.00,385.69 182.85,389.41 187.15,389.41" fill="#fff" stroke="#3f3fdc" stroke-width="0.9"/>
<polygon points="187.29,385.47 185.14,389.20 189.44,389.20" fill="#fff" stroke="#3f3fdc" stroke-width="0.9"/>
<polygon points="189.58,385.26 187.43,388.98 191.73,388.98" fill="#fff" stroke="#3f3fdc" stroke-width="0.9"/>
<polygon points="191.87,385.04 189.72,388.77 194.02,388.77" fill="#fff" stroke="#3f3fdc" stroke-width="0.9"/>
<polygon points="194.16,384.83 192.01,388.55 196.31,388.55" fill="#fff" stroke="#3f3fdc" stroke-width="0.9"/>
<polygon points="196.45,384.61 194.30,388.34 198.60,388.34" fill="#fff" stroke="#3f3fdc" stroke-width="0.9"/>
<polygon points="198.64,384.09 196.49,387.82 200.79,387.82" fill="#fff" stroke="#3f3fdc" stroke-width="0.9"/>
<polygon points="155.20,347.46 152.95,351.36 157.45,351.36" fill="#fff" stroke="#3f3fdc" stroke-width="0.9"/>
<polygon points="153.30,349.36 151.05,353.26 155.55,353.26" fill="#fff" stroke="#3f3fdc" stroke-width="0.9"/>
<polygon points="151.50,351.16 149.25,355.06 153.75,355.06" fill="#fff" stroke="#3f3fdc" stroke-width="0.9"/>
<polygon points="149.70,353.06 147.45,356.96 151.95,356.96" fill="#fff" stroke="#3f3fdc" stroke-width="0.9"/>
<polygon points="147.80,354.86 145.55,358.76 150.05,358.76" fill="#fff" stroke="#3f3fdc" stroke-width="0.9"/>
<polygon points="146.00,357.36 143.75,361.26 148.25,361.26" fill="#fff" stroke="#3f3fdc" stroke-width="0.9"/>
<polygon points="144.10,360.36 141.85,364.26 146.35,364.26" fill="#fff" stroke="#3f3fdc" stroke-width="0.9"/>
<polygon points="143.50,365.96 141.25,369.86 145.75,369.86" fill="#fff" stroke="#3f3fdc" stroke-width="0.9"/>
<polygon points="142.30,370.86 140.05,374.76 144.55,374.76" fill="#fff" stroke="#3f3fdc" stroke-width="0.9"/>
<polygon points="141.00,376.36 138.75,380.26 143.25,380.26" fill="#fff" stroke="#3f3fdc" stroke-width="0.9"/>
<polygon points="139.80,380.06 137.55,383.96 142.05,383.96" fill="#fff" stroke="#3f3fdc" stroke-width="0.9"/>
<polygon points="138.00,383.16 135.75,387.06 140.25,387.06" fill="#fff" stroke="#3f3fdc" stroke-width="0.9"/>
<polygon points="136.10,384.96 133.85,388.86 138.35,388.86" fill="#fff" stroke="#3f3fdc" stroke-width="0.9"/>
<polygon points="200.00,336.66 197.75,340.56 202.25,340.56" fill="#fff" stroke="#3f3fdc" stroke-width="0.9"/>
<polygon points="201.70,336.16 199.45,340.06 203.95,340.06" fill="#fff" stroke="#3f3fdc" stroke-width="0.9"/>
<polygon points="203.90,335.06 201.65,338.96 206.15,338.96" fill="#fff" stroke="#3f3fdc" stroke-width="0.9"/>
<polygon points="206.10,333.36 203.85,337.26 208.35,337.26" fill="#fff" stroke="#3f3fdc" stroke-width="0.9"/>
<polygon points="208.40,331.16 206.15,335.06 210.65,335.06" fill="#fff" stroke="#3f3fdc" stroke-width="0.9"/>
<polygon points="210.00,328.36 207.75,332.26 212.25,332.26" fill="#fff" stroke="#3f3fdc" stroke-width="0.9"/>
<polygon points="211.20,325.56 208.95,329.46 213.45,329.46" fill="#fff" stroke="#3f3fdc" stroke-width="0.9"/>
<polygon points="212.30,322.76 210.05,326.66 214.55,326.66" fill="#fff" stroke="#3f3fdc" stroke-width="0.9"/>
<polygon points="213.40,319.96 211.15,323.86 215.65,323.86" fill="#fff" stroke="#3f3fdc" stroke-width="0.9"/>
<polygon points="214.50,316.66 212.25,320.56 216.75,320.56" fill="#fff" stroke="#3f3fdc" stroke-width="0.9"/>
<polygon points="215.60,313.26 213.35,317.16 217.85,317.16" fill="#fff" stroke="#3f3fdc" stroke-width="0.9"/>
<polygon points="216.70,309.36 214.45,313.26 218.95,313.26" fill="#fff" stroke="#3f3fdc" stroke-width="0.9"/>
<polygon points="217.90,305.46 215.65,309.36 220.15,309.36" fill="#fff" stroke="#3f3fdc" stroke-width="0.9"/>
<polygon points="219.00,302.66 216.75,306.56 221.25,306.56" fill="#fff" stroke="#3f3fdc" stroke-width="0.9"/>
<polygon points="220.10,299.86 217.85,303.76 222.35,303.76" fill="#fff" stroke="#3f3fdc" stroke-width="0.9"/>
<polygon points="157.30,318.96 155.05,322.86 159.55,322.86" fill="#fff" stroke="#3f3fdc" stroke-width="0.9"/>
<polygon points="200.30,376.36 198.05,380.26 202.55,380.26" fill="#fff" stroke="#3f3fdc" stroke-width="0.9"/>
<line x1="140" y1="341.2" x2="140" y2="345" stroke="#141414" stroke-width="1.5"/>
<polygon points="139.4,336.7 140.6,336.7 141.7,341.7 138.3,341.7" fill="#141414"/>
<line x1="148" y1="332.5" x2="148" y2="338.1" stroke="#7a168c" stroke-width="2.0"/>
<polygon points="147.3,345 148.7,345 150.45,337.6 145.55,337.6" fill="#7a168c"/>
<line x1="225" y1="310.5" x2="225" y2="316.3" stroke="#141414" stroke-width="1.5"/>
<polygon points="224.4,306 225.6,306 226.7,311.0 223.3,311.0" fill="#141414"/>
<line x1="233.5" y1="309.2" x2="233.5" y2="316.3" stroke="#7a168c" stroke-width="2.0"/>
<polygon points="232.8,302.3 234.2,302.3 235.95,309.7 231.05,309.7" fill="#7a168c"/>
<line x1="207.5" y1="343.7" x2="207.5" y2="348.9" stroke="#141414" stroke-width="1.5"/>
<polygon points="206.9,353.4 208.1,353.4 209.2,348.4 205.8,348.4" fill="#141414"/>
<line x1="214.5" y1="349.2" x2="214.5" y2="356.2" stroke="#7a168c" stroke-width="2.0"/>
<polygon points="213.8,342.3 215.2,342.3 216.95,349.7 212.05,349.7" fill="#7a168c"/>
<line x1="121.1" y1="374.4" x2="121.1" y2="380.3" stroke="#141414" stroke-width="1.5"/>
<polygon points="120.5,384.8 121.69999999999999,384.8 122.8,379.8 119.39999999999999,379.8" fill="#141414"/>
<line x1="129.4" y1="370.2" x2="129.4" y2="377.90000000000003" stroke="#7a168c" stroke-width="2.0"/>
<polygon points="128.70000000000002,384.8 130.1,384.8 131.85,377.40000000000003 126.95,377.40000000000003" fill="#7a168c"/>
<polyline points="486.70,24.10 485.40,94.80" fill="none" stroke="#666" stroke-width="0.8"/>
<polyline points="454.70,100.70 451.70,117.00" fill="none" stroke="#666" stroke-width="0.8"/>
<polyline points="533.50,116.80 534.80,44.00" fill="none" stroke="#666" stroke-width="0.8"/>
<polyline points="566.00,42.70 568.75,30.60 570.30,21.50" fill="none" stroke="#666" stroke-width="0.8"/>
<rect x="626.75" y="19.45" width="3.1" height="3.1" fill="#fff" stroke="#2a2a2a" stroke-width="1.2"/>
<rect x="624.15" y="19.47" width="3.1" height="3.1" fill="#fff" stroke="#2a2a2a" stroke-width="1.2"/>
<rect x="621.55" y="19.48" width="3.1" height="3.1" fill="#fff" stroke="#2a2a2a" stroke-width="1.2"/>
<rect x="618.95" y="19.50" width="3.1" height="3.1" fill="#fff" stroke="#2a2a2a" stroke-width="1.2"/>
<rect x="616.35" y="19.51" width="3.1" height="3.1" fill="#fff" stroke="#2a2a2a" stroke-width="1.2"/>
<rect x="613.75" y="19.53" width="3.1" height="3.1" fill="#fff" stroke="#2a2a2a" stroke-width="1.2"/>
<rect x="611.15" y="19.54" width="3.1" height="3.1" fill="#fff" stroke="#2a2a2a" stroke-width="1.2"/>
<rect x="608.55" y="19.56" width="3.1" height="3.1" fill="#fff" stroke="#2a2a2a" stroke-width="1.2"/>
<rect x="605.95" y="19.57" width="3.1" height="3.1" fill="#fff" stroke="#2a2a2a" stroke-width="1.2"/>
<rect x="603.35" y="19.59" width="3.1" height="3.1" fill="#fff" stroke="#2a2a2a" stroke-width="1.2"/>
<rect x="600.75" y="19.60" width="3.1" height="3.1" fill="#fff" stroke="#2a2a2a" stroke-width="1.2"/>
<rect x="598.15" y="19.62" width="3.1" height="3.1" fill="#fff" stroke="#2a2a2a" stroke-width="1.2"/>
<rect x="595.55" y="19.63" width="3.1" height="3.1" fill="#fff" stroke="#2a2a2a" stroke-width="1.2"/>
<rect x="592.95" y="19.65" width="3.1" height="3.1" fill="#fff" stroke="#2a2a2a" stroke-width="1.2"/>
<rect x="590.35" y="19.66" width="3.1" height="3.1" fill="#fff" stroke="#2a2a2a" stroke-width="1.2"/>
<rect x="587.75" y="19.68" width="3.1" height="3.1" fill="#fff" stroke="#2a2a2a" stroke-width="1.2"/>
<rect x="585.15" y="19.69" width="3.1" height="3.1" fill="#fff" stroke="#2a2a2a" stroke-width="1.2"/>
<rect x="582.55" y="19.71" width="3.1" height="3.1" fill="#fff" stroke="#2a2a2a" stroke-width="1.2"/>
<rect x="579.95" y="19.72" width="3.1" height="3.1" fill="#fff" stroke="#2a2a2a" stroke-width="1.2"/>
<rect x="577.35" y="19.74" width="3.1" height="3.1" fill="#fff" stroke="#2a2a2a" stroke-width="1.2"/>
<rect x="574.75" y="19.75" width="3.1" height="3.1" fill="#fff" stroke="#2a2a2a" stroke-width="1.2"/>
<rect x="572.15" y="19.77" width="3.1" height="3.1" fill="#fff" stroke="#2a2a2a" stroke-width="1.2"/>
<rect x="569.55" y="19.78" width="3.1" height="3.1" fill="#fff" stroke="#2a2a2a" stroke-width="1.2"/>
<rect x="566.95" y="19.80" width="3.1" height="3.1" fill="#fff" stroke="#2a2a2a" stroke-width="1.2"/>
<rect x="564.35" y="19.82" width="3.1" height="3.1" fill="#fff" stroke="#2a2a2a" stroke-width="1.2"/>
<rect x="561.75" y="19.83" width="3.1" height="3.1" fill="#fff" stroke="#2a2a2a" stroke-width="1.2"/>
<rect x="559.15" y="19.85" width="3.1" height="3.1" fill="#fff" stroke="#2a2a2a" stroke-width="1.2"/>
<rect x="556.55" y="19.86" width="3.1" height="3.1" fill="#fff" stroke="#2a2a2a" stroke-width="1.2"/>
<rect x="553.95" y="19.88" width="3.1" height="3.1" fill="#fff" stroke="#2a2a2a" stroke-width="1.2"/>
<rect x="551.35" y="19.89" width="3.1" height="3.1" fill="#fff" stroke="#2a2a2a" stroke-width="1.2"/>
<rect x="548.75" y="19.90" width="3.1" height="3.1" fill="#fff" stroke="#2a2a2a" stroke-width="1.2"/>
<rect x="546.15" y="19.92" width="3.1" height="3.1" fill="#fff" stroke="#2a2a2a" stroke-width="1.2"/>
<rect x="543.55" y="19.93" width="3.1" height="3.1" fill="#fff" stroke="#2a2a2a" stroke-width="1.2"/>
<rect x="540.95" y="19.95" width="3.1" height="3.1" fill="#fff" stroke="#2a2a2a" stroke-width="1.2"/>
<rect x="538.35" y="19.96" width="3.1" height="3.1" fill="#fff" stroke="#2a2a2a" stroke-width="1.2"/>
<rect x="535.75" y="19.98" width="3.1" height="3.1" fill="#fff" stroke="#2a2a2a" stroke-width="1.2"/>
<rect x="533.15" y="19.99" width="3.1" height="3.1" fill="#fff" stroke="#2a2a2a" stroke-width="1.2"/>
<rect x="530.55" y="20.01" width="3.1" height="3.1" fill="#fff" stroke="#2a2a2a" stroke-width="1.2"/>
<rect x="527.95" y="20.02" width="3.1" height="3.1" fill="#fff" stroke="#2a2a2a" stroke-width="1.2"/>
<rect x="525.35" y="20.04" width="3.1" height="3.1" fill="#fff" stroke="#2a2a2a" stroke-width="1.2"/>
<rect x="522.75" y="20.05" width="3.1" height="3.1" fill="#fff" stroke="#2a2a2a" stroke-width="1.2"/>
<rect x="520.15" y="20.06" width="3.1" height="3.1" fill="#fff" stroke="#2a2a2a" stroke-width="1.2"/>
<rect x="517.55" y="20.08" width="3.1" height="3.1" fill="#fff" stroke="#2a2a2a" stroke-width="1.2"/>
<rect x="514.95" y="20.09" width="3.1" height="3.1" fill="#fff" stroke="#2a2a2a" stroke-width="1.2"/>
<rect x="512.35" y="20.11" width="3.1" height="3.1" fill="#fff" stroke="#2a2a2a" stroke-width="1.2"/>
<rect x="509.75" y="20.12" width="3.1" height="3.1" fill="#fff" stroke="#2a2a2a" stroke-width="1.2"/>
<rect x="507.15" y="20.14" width="3.1" height="3.1" fill="#fff" stroke="#2a2a2a" stroke-width="1.2"/>
<rect x="504.55" y="20.15" width="3.1" height="3.1" fill="#fff" stroke="#2a2a2a" stroke-width="1.2"/>
<rect x="501.95" y="20.17" width="3.1" height="3.1" fill="#fff" stroke="#2a2a2a" stroke-width="1.2"/>
<rect x="499.35" y="20.18" width="3.1" height="3.1" fill="#fff" stroke="#2a2a2a" stroke-width="1.2"/>
<rect x="496.75" y="20.20" width="3.1" height="3.1" fill="#fff" stroke="#2a2a2a" stroke-width="1.2"/>
<rect x="494.15" y="20.21" width="3.1" height="3.1" fill="#fff" stroke="#2a2a2a" stroke-width="1.2"/>
<rect x="491.55" y="20.22" width="3.1" height="3.1" fill="#fff" stroke="#2a2a2a" stroke-width="1.2"/>
<rect x="488.95" y="20.24" width="3.1" height="3.1" fill="#fff" stroke="#2a2a2a" stroke-width="1.2"/>
<rect x="483.25" y="93.25" width="3.1" height="3.1" fill="#fff" stroke="#2a2a2a" stroke-width="1.2"/>
<rect x="480.65" y="93.25" width="3.1" height="3.1" fill="#fff" stroke="#2a2a2a" stroke-width="1.2"/>
<rect x="478.05" y="93.25" width="3.1" height="3.1" fill="#fff" stroke="#2a2a2a" stroke-width="1.2"/>
<rect x="475.45" y="93.25" width="3.1" height="3.1" fill="#fff" stroke="#2a2a2a" stroke-width="1.2"/>
<rect x="472.85" y="93.25" width="3.1" height="3.1" fill="#fff" stroke="#2a2a2a" stroke-width="1.2"/>
<rect x="470.25" y="93.25" width="3.1" height="3.1" fill="#fff" stroke="#2a2a2a" stroke-width="1.2"/>
<rect x="467.65" y="93.25" width="3.1" height="3.1" fill="#fff" stroke="#2a2a2a" stroke-width="1.2"/>
<rect x="465.05" y="93.25" width="3.1" height="3.1" fill="#fff" stroke="#2a2a2a" stroke-width="1.2"/>
<rect x="462.45" y="93.25" width="3.1" height="3.1" fill="#fff" stroke="#2a2a2a" stroke-width="1.2"/>
<rect x="459.85" y="93.25" width="3.1" height="3.1" fill="#fff" stroke="#2a2a2a" stroke-width="1.2"/>
<rect x="457.25" y="93.25" width="3.1" height="3.1" fill="#fff" stroke="#2a2a2a" stroke-width="1.2"/>
<rect x="390.95" y="116.95" width="3.1" height="3.1" fill="#fff" stroke="#2a2a2a" stroke-width="1.2"/>
<rect x="393.55" y="116.92" width="3.1" height="3.1" fill="#fff" stroke="#2a2a2a" stroke-width="1.2"/>
<rect x="396.15" y="116.89" width="3.1" height="3.1" fill="#fff" stroke="#2a2a2a" stroke-width="1.2"/>
<rect x="398.75" y="116.86" width="3.1" height="3.1" fill="#fff" stroke="#2a2a2a" stroke-width="1.2"/>
<rect x="401.35" y="116.82" width="3.1" height="3.1" fill="#fff" stroke="#2a2a2a" stroke-width="1.2"/>
<rect x="403.95" y="116.79" width="3.1" height="3.1" fill="#fff" stroke="#2a2a2a" stroke-width="1.2"/>
<rect x="406.55" y="116.76" width="3.1" height="3.1" fill="#fff" stroke="#2a2a2a" stroke-width="1.2"/>
<rect x="409.15" y="116.73" width="3.1" height="3.1" fill="#fff" stroke="#2a2a2a" stroke-width="1.2"/>
<rect x="411.75" y="116.70" width="3.1" height="3.1" fill="#fff" stroke="#2a2a2a" stroke-width="1.2"/>
<rect x="414.35" y="116.67" width="3.1" height="3.1" fill="#fff" stroke="#2a2a2a" stroke-width="1.2"/>
<rect x="416.95" y="116.64" width="3.1" height="3.1" fill="#fff" stroke="#2a2a2a" stroke-width="1.2"/>
<rect x="419.55" y="116.61" width="3.1" height="3.1" fill="#fff" stroke="#2a2a2a" stroke-width="1.2"/>
<rect x="422.15" y="116.57" width="3.1" height="3.1" fill="#fff" stroke="#2a2a2a" stroke-width="1.2"/>
<rect x="424.75" y="116.54" width="3.1" height="3.1" fill="#fff" stroke="#2a2a2a" stroke-width="1.2"/>
<rect x="427.35" y="116.51" width="3.1" height="3.1" fill="#fff" stroke="#2a2a2a" stroke-width="1.2"/>
<rect x="429.95" y="116.48" width="3.1" height="3.1" fill="#fff" stroke="#2a2a2a" stroke-width="1.2"/>
<rect x="432.55" y="116.45" width="3.1" height="3.1" fill="#fff" stroke="#2a2a2a" stroke-width="1.2"/>
<rect x="435.15" y="116.42" width="3.1" height="3.1" fill="#fff" stroke="#2a2a2a" stroke-width="1.2"/>
<rect x="437.75" y="116.39" width="3.1" height="3.1" fill="#fff" stroke="#2a2a2a" stroke-width="1.2"/>
<rect x="440.35" y="116.35" width="3.1" height="3.1" fill="#fff" stroke="#2a2a2a" stroke-width="1.2"/>
<rect x="442.95" y="116.32" width="3.1" height="3.1" fill="#fff" stroke="#2a2a2a" stroke-width="1.2"/>
<rect x="445.55" y="116.29" width="3.1" height="3.1" fill="#fff" stroke="#2a2a2a" stroke-width="1.2"/>
<rect x="448.15" y="116.26" width="3.1" height="3.1" fill="#fff" stroke="#2a2a2a" stroke-width="1.2"/>
<rect x="450.75" y="116.23" width="3.1" height="3.1" fill="#fff" stroke="#2a2a2a" stroke-width="1.2"/>
<rect x="453.35" y="116.20" width="3.1" height="3.1" fill="#fff" stroke="#2a2a2a" stroke-width="1.2"/>
<rect x="455.95" y="116.17" width="3.1" height="3.1" fill="#fff" stroke="#2a2a2a" stroke-width="1.2"/>
<rect x="458.55" y="116.14" width="3.1" height="3.1" fill="#fff" stroke="#2a2a2a" stroke-width="1.2"/>
<rect x="461.14" y="116.10" width="3.1" height="3.1" fill="#fff" stroke="#2a2a2a" stroke-width="1.2"/>
<rect x="463.74" y="116.07" width="3.1" height="3.1" fill="#fff" stroke="#2a2a2a" stroke-width="1.2"/>
<rect x="466.34" y="116.04" width="3.1" height="3.1" fill="#fff" stroke="#2a2a2a" stroke-width="1.2"/>
<rect x="468.94" y="116.01" width="3.1" height="3.1" fill="#fff" stroke="#2a2a2a" stroke-width="1.2"/>
<rect x="471.54" y="115.98" width="3.1" height="3.1" fill="#fff" stroke="#2a2a2a" stroke-width="1.2"/>
<rect x="474.14" y="115.95" width="3.1" height="3.1" fill="#fff" stroke="#2a2a2a" stroke-width="1.2"/>
<rect x="476.74" y="115.92" width="3.1" height="3.1" fill="#fff" stroke="#2a2a2a" stroke-width="1.2"/>
<rect x="479.34" y="115.88" width="3.1" height="3.1" fill="#fff" stroke="#2a2a2a" stroke-width="1.2"/>
<rect x="481.94" y="115.85" width="3.1" height="3.1" fill="#fff" stroke="#2a2a2a" stroke-width="1.2"/>
<rect x="484.54" y="115.82" width="3.1" height="3.1" fill="#fff" stroke="#2a2a2a" stroke-width="1.2"/>
<rect x="487.14" y="115.79" width="3.1" height="3.1" fill="#fff" stroke="#2a2a2a" stroke-width="1.2"/>
<rect x="489.74" y="115.76" width="3.1" height="3.1" fill="#fff" stroke="#2a2a2a" stroke-width="1.2"/>
<rect x="492.34" y="115.73" width="3.1" height="3.1" fill="#fff" stroke="#2a2a2a" stroke-width="1.2"/>
<rect x="494.94" y="115.70" width="3.1" height="3.1" fill="#fff" stroke="#2a2a2a" stroke-width="1.2"/>
<rect x="497.54" y="115.66" width="3.1" height="3.1" fill="#fff" stroke="#2a2a2a" stroke-width="1.2"/>
<rect x="500.14" y="115.63" width="3.1" height="3.1" fill="#fff" stroke="#2a2a2a" stroke-width="1.2"/>
<rect x="502.74" y="115.60" width="3.1" height="3.1" fill="#fff" stroke="#2a2a2a" stroke-width="1.2"/>
<rect x="505.34" y="115.57" width="3.1" height="3.1" fill="#fff" stroke="#2a2a2a" stroke-width="1.2"/>
<rect x="507.94" y="115.54" width="3.1" height="3.1" fill="#fff" stroke="#2a2a2a" stroke-width="1.2"/>
<rect x="510.54" y="115.51" width="3.1" height="3.1" fill="#fff" stroke="#2a2a2a" stroke-width="1.2"/>
<rect x="513.14" y="115.48" width="3.1" height="3.1" fill="#fff" stroke="#2a2a2a" stroke-width="1.2"/>
<rect x="515.74" y="115.45" width="3.1" height="3.1" fill="#fff" stroke="#2a2a2a" stroke-width="1.2"/>
<rect x="518.34" y="115.41" width="3.1" height="3.1" fill="#fff" stroke="#2a2a2a" stroke-width="1.2"/>
<rect x="520.94" y="115.38" width="3.1" height="3.1" fill="#fff" stroke="#2a2a2a" stroke-width="1.2"/>
<rect x="523.54" y="115.35" width="3.1" height="3.1" fill="#fff" stroke="#2a2a2a" stroke-width="1.2"/>
<rect x="526.14" y="115.32" width="3.1" height="3.1" fill="#fff" stroke="#2a2a2a" stroke-width="1.2"/>
<rect x="528.74" y="115.29" width="3.1" height="3.1" fill="#fff" stroke="#2a2a2a" stroke-width="1.2"/>
<rect x="531.34" y="115.26" width="3.1" height="3.1" fill="#fff" stroke="#2a2a2a" stroke-width="1.2"/>
<rect x="533.25" y="42.55" width="3.1" height="3.1" fill="#fff" stroke="#2a2a2a" stroke-width="1.2"/>
<rect x="535.85" y="42.50" width="3.1" height="3.1" fill="#fff" stroke="#2a2a2a" stroke-width="1.2"/>
<rect x="538.45" y="42.45" width="3.1" height="3.1" fill="#fff" stroke="#2a2a2a" stroke-width="1.2"/>
<rect x="541.05" y="42.40" width="3.1" height="3.1" fill="#fff" stroke="#2a2a2a" stroke-width="1.2"/>
<rect x="543.65" y="42.35" width="3.1" height="3.1" fill="#fff" stroke="#2a2a2a" stroke-width="1.2"/>
<rect x="546.25" y="42.30" width="3.1" height="3.1" fill="#fff" stroke="#2a2a2a" stroke-width="1.2"/>
<rect x="548.85" y="42.25" width="3.1" height="3.1" fill="#fff" stroke="#2a2a2a" stroke-width="1.2"/>
<rect x="551.45" y="42.20" width="3.1" height="3.1" fill="#fff" stroke="#2a2a2a" stroke-width="1.2"/>
<rect x="554.05" y="42.15" width="3.1" height="3.1" fill="#fff" stroke="#2a2a2a" stroke-width="1.2"/>
<rect x="556.65" y="42.10" width="3.1" height="3.1" fill="#fff" stroke="#2a2a2a" stroke-width="1.2"/>
<rect x="559.25" y="42.05" width="3.1" height="3.1" fill="#fff" stroke="#2a2a2a" stroke-width="1.2"/>
<rect x="561.84" y="42.00" width="3.1" height="3.1" fill="#fff" stroke="#2a2a2a" stroke-width="1.2"/>
<rect x="564.44" y="41.95" width="3.1" height="3.1" fill="#fff" stroke="#2a2a2a" stroke-width="1.2"/>
<rect x="521.45" y="20.05" width="3.1" height="3.1" fill="#fff" stroke="#2a2a2a" stroke-width="1.2"/>
<rect x="520.05" y="20.06" width="3.1" height="3.1" fill="#fff" stroke="#2a2a2a" stroke-width="1.2"/>
<rect x="518.65" y="20.06" width="3.1" height="3.1" fill="#fff" stroke="#2a2a2a" stroke-width="1.2"/>
<rect x="517.25" y="20.07" width="3.1" height="3.1" fill="#fff" stroke="#2a2a2a" stroke-width="1.2"/>
<rect x="515.85" y="20.07" width="3.1" height="3.1" fill="#fff" stroke="#2a2a2a" stroke-width="1.2"/>
<rect x="514.45" y="20.08" width="3.1" height="3.1" fill="#fff" stroke="#2a2a2a" stroke-width="1.2"/>
<rect x="513.05" y="20.08" width="3.1" height="3.1" fill="#fff" stroke="#2a2a2a" stroke-width="1.2"/>
<rect x="511.65" y="20.09" width="3.1" height="3.1" fill="#fff" stroke="#2a2a2a" stroke-width="1.2"/>
<rect x="510.25" y="20.09" width="3.1" height="3.1" fill="#fff" stroke="#2a2a2a" stroke-width="1.2"/>
<rect x="508.85" y="20.10" width="3.1" height="3.1" fill="#fff" stroke="#2a2a2a" stroke-width="1.2"/>
<rect x="507.45" y="20.11" width="3.1" height="3.1" fill="#fff" stroke="#2a2a2a" stroke-width="1.2"/>
<rect x="506.05" y="20.11" width="3.1" height="3.1" fill="#fff" stroke="#2a2a2a" stroke-width="1.2"/>
<rect x="504.65" y="20.12" width="3.1" height="3.1" fill="#fff" stroke="#2a2a2a" stroke-width="1.2"/>
<rect x="503.25" y="20.12" width="3.1" height="3.1" fill="#fff" stroke="#2a2a2a" stroke-width="1.2"/>
<rect x="501.85" y="20.13" width="3.1" height="3.1" fill="#fff" stroke="#2a2a2a" stroke-width="1.2"/>
<rect x="500.45" y="20.13" width="3.1" height="3.1" fill="#fff" stroke="#2a2a2a" stroke-width="1.2"/>
<rect x="499.05" y="20.14" width="3.1" height="3.1" fill="#fff" stroke="#2a2a2a" stroke-width="1.2"/>
<rect x="497.65" y="20.15" width="3.1" height="3.1" fill="#fff" stroke="#2a2a2a" stroke-width="1.2"/>
<rect x="497.45" y="115.65" width="3.1" height="3.1" fill="#fff" stroke="#2a2a2a" stroke-width="1.2"/>
<rect x="498.85" y="115.64" width="3.1" height="3.1" fill="#fff" stroke="#2a2a2a" stroke-width="1.2"/>
<rect x="500.25" y="115.63" width="3.1" height="3.1" fill="#fff" stroke="#2a2a2a" stroke-width="1.2"/>
<rect x="501.65" y="115.62" width="3.1" height="3.1" fill="#fff" stroke="#2a2a2a" stroke-width="1.2"/>
<rect x="503.05" y="115.61" width="3.1" height="3.1" fill="#fff" stroke="#2a2a2a" stroke-width="1.2"/>
<rect x="504.45" y="115.60" width="3.1" height="3.1" fill="#fff" stroke="#2a2a2a" stroke-width="1.2"/>
<rect x="505.85" y="115.59" width="3.1" height="3.1" fill="#fff" stroke="#2a2a2a" stroke-width="1.2"/>
<rect x="507.25" y="115.57" width="3.1" height="3.1" fill="#fff" stroke="#2a2a2a" stroke-width="1.2"/>
<rect x="508.65" y="115.56" width="3.1" height="3.1" fill="#fff" stroke="#2a2a2a" stroke-width="1.2"/>
<rect x="510.05" y="115.55" width="3.1" height="3.1" fill="#fff" stroke="#2a2a2a" stroke-width="1.2"/>
<rect x="452.80" y="97.50" width="3.4" height="3.4" fill="#fff" stroke="#2a2a2a" stroke-width="1.0"/>
<rect x="567.05" y="28.90" width="3.4" height="3.4" fill="#fff" stroke="#2a2a2a" stroke-width="1.0"/>
<rect x="485.00" y="22.40" width="3.4" height="3.4" fill="#fff" stroke="#2a2a2a" stroke-width="1.0"/>
<line x1="468.6" y1="84.3" x2="468.6" y2="89" stroke="#141414" stroke-width="1.5"/>
<polygon points="468.0,79.8 469.20000000000005,79.8 470.3,84.8 466.90000000000003,84.8" fill="#141414"/>
<line x1="476.8" y1="74.9" x2="476.8" y2="82.69999999999999" stroke="#7a168c" stroke-width="2.0"/>
<polygon points="476.1,89.6 477.5,89.6 479.25,82.19999999999999 474.35,82.19999999999999" fill="#7a168c"/>
<line x1="405.9" y1="104" x2="405.9" y2="108.7" stroke="#141414" stroke-width="1.5"/>
<polygon points="405.29999999999995,113.2 406.5,113.2 407.59999999999997,108.2 404.2,108.2" fill="#141414"/>
<line x1="414.9" y1="99.3" x2="414.9" y2="106.3" stroke="#7a168c" stroke-width="2.0"/>
<polygon points="414.2,113.2 415.59999999999997,113.2 417.34999999999997,105.8 412.45,105.8" fill="#7a168c"/>
<line x1="613.8" y1="33.2" x2="613.8" y2="37" stroke="#141414" stroke-width="1.5"/>
<polygon points="613.1999999999999,28.7 614.4,28.7 615.5,33.7 612.0999999999999,33.7" fill="#141414"/>
<line x1="621.9" y1="30.9" x2="621.9" y2="37" stroke="#7a168c" stroke-width="2.0"/>
<polygon points="621.1999999999999,24 622.6,24 624.35,31.4 619.4499999999999,31.4" fill="#7a168c"/>
<line x1="545.6" y1="48.1" x2="545.6" y2="53.4" stroke="#141414" stroke-width="1.5"/>
<polygon points="545.0,57.9 546.2,57.9 547.3000000000001,52.9 543.9,52.9" fill="#141414"/>
<line x1="553.7" y1="54.699999999999996" x2="553.7" y2="62.1" stroke="#7a168c" stroke-width="2.0"/>
<polygon points="553.0,47.8 554.4000000000001,47.8 556.1500000000001,55.199999999999996 551.25,55.199999999999996" fill="#7a168c"/>
<polyline points="487.10,169.80 484.50,242.20" fill="none" stroke="#e2433d" stroke-width="0.85"/>
<polyline points="533.50,250.20 536.10,171.80" fill="none" stroke="#e2433d" stroke-width="0.85"/>
<polyline points="562.90,171.80 564.20,166.00 566.00,162.40" fill="none" stroke="#e2433d" stroke-width="0.85"/>
<circle cx="627.10" cy="158.90" r="2.05" fill="#fff" stroke="#e2433d" stroke-width="1.0"/>
<circle cx="624.90" cy="158.95" r="2.05" fill="#fff" stroke="#e2433d" stroke-width="1.0"/>
<circle cx="622.70" cy="159.00" r="2.05" fill="#fff" stroke="#e2433d" stroke-width="1.0"/>
<circle cx="620.50" cy="159.06" r="2.05" fill="#fff" stroke="#e2433d" stroke-width="1.0"/>
<circle cx="618.30" cy="159.11" r="2.05" fill="#fff" stroke="#e2433d" stroke-width="1.0"/>
<circle cx="616.10" cy="159.16" r="2.05" fill="#fff" stroke="#e2433d" stroke-width="1.0"/>
<circle cx="613.90" cy="159.21" r="2.05" fill="#fff" stroke="#e2433d" stroke-width="1.0"/>
<circle cx="611.70" cy="159.27" r="2.05" fill="#fff" stroke="#e2433d" stroke-width="1.0"/>
<circle cx="609.51" cy="159.32" r="2.05" fill="#fff" stroke="#e2433d" stroke-width="1.0"/>
<circle cx="607.31" cy="159.37" r="2.05" fill="#fff" stroke="#e2433d" stroke-width="1.0"/>
<circle cx="605.11" cy="159.42" r="2.05" fill="#fff" stroke="#e2433d" stroke-width="1.0"/>
<circle cx="602.91" cy="159.48" r="2.05" fill="#fff" stroke="#e2433d" stroke-width="1.0"/>
<circle cx="600.71" cy="159.53" r="2.05" fill="#fff" stroke="#e2433d" stroke-width="1.0"/>
<circle cx="598.51" cy="159.58" r="2.05" fill="#fff" stroke="#e2433d" stroke-width="1.0"/>
<circle cx="596.31" cy="159.63" r="2.05" fill="#fff" stroke="#e2433d" stroke-width="1.0"/>
<circle cx="594.11" cy="159.69" r="2.05" fill="#fff" stroke="#e2433d" stroke-width="1.0"/>
<circle cx="591.91" cy="159.74" r="2.05" fill="#fff" stroke="#e2433d" stroke-width="1.0"/>
<circle cx="589.71" cy="159.79" r="2.05" fill="#fff" stroke="#e2433d" stroke-width="1.0"/>
<circle cx="587.51" cy="159.84" r="2.05" fill="#fff" stroke="#e2433d" stroke-width="1.0"/>
<circle cx="585.31" cy="159.90" r="2.05" fill="#fff" stroke="#e2433d" stroke-width="1.0"/>
<circle cx="583.11" cy="159.95" r="2.05" fill="#fff" stroke="#e2433d" stroke-width="1.0"/>
<circle cx="580.91" cy="160.00" r="2.05" fill="#fff" stroke="#e2433d" stroke-width="1.0"/>
<circle cx="578.71" cy="160.05" r="2.05" fill="#fff" stroke="#e2433d" stroke-width="1.0"/>
<circle cx="576.51" cy="160.11" r="2.05" fill="#fff" stroke="#e2433d" stroke-width="1.0"/>
<circle cx="574.32" cy="160.16" r="2.05" fill="#fff" stroke="#e2433d" stroke-width="1.0"/>
<circle cx="572.12" cy="160.21" r="2.05" fill="#fff" stroke="#e2433d" stroke-width="1.0"/>
<circle cx="569.92" cy="160.26" r="2.05" fill="#fff" stroke="#e2433d" stroke-width="1.0"/>
<circle cx="567.72" cy="160.32" r="2.05" fill="#fff" stroke="#e2433d" stroke-width="1.0"/>
<circle cx="565.52" cy="160.37" r="2.05" fill="#fff" stroke="#e2433d" stroke-width="1.0"/>
<circle cx="563.32" cy="160.42" r="2.05" fill="#fff" stroke="#e2433d" stroke-width="1.0"/>
<circle cx="561.12" cy="160.47" r="2.05" fill="#fff" stroke="#e2433d" stroke-width="1.0"/>
<circle cx="558.92" cy="160.54" r="2.05" fill="#fff" stroke="#e2433d" stroke-width="1.0"/>
<circle cx="556.72" cy="160.62" r="2.05" fill="#fff" stroke="#e2433d" stroke-width="1.0"/>
<circle cx="554.52" cy="160.70" r="2.05" fill="#fff" stroke="#e2433d" stroke-width="1.0"/>
<circle cx="552.32" cy="160.78" r="2.05" fill="#fff" stroke="#e2433d" stroke-width="1.0"/>
<circle cx="550.13" cy="160.86" r="2.05" fill="#fff" stroke="#e2433d" stroke-width="1.0"/>
<circle cx="547.93" cy="160.93" r="2.05" fill="#fff" stroke="#e2433d" stroke-width="1.0"/>
<circle cx="545.73" cy="161.01" r="2.05" fill="#fff" stroke="#e2433d" stroke-width="1.0"/>
<circle cx="543.53" cy="161.09" r="2.05" fill="#fff" stroke="#e2433d" stroke-width="1.0"/>
<circle cx="541.33" cy="161.17" r="2.05" fill="#fff" stroke="#e2433d" stroke-width="1.0"/>
<circle cx="539.13" cy="161.25" r="2.05" fill="#fff" stroke="#e2433d" stroke-width="1.0"/>
<circle cx="536.93" cy="161.33" r="2.05" fill="#fff" stroke="#e2433d" stroke-width="1.0"/>
<circle cx="534.74" cy="161.41" r="2.05" fill="#fff" stroke="#e2433d" stroke-width="1.0"/>
<circle cx="532.54" cy="161.49" r="2.05" fill="#fff" stroke="#e2433d" stroke-width="1.0"/>
<circle cx="530.34" cy="161.57" r="2.05" fill="#fff" stroke="#e2433d" stroke-width="1.0"/>
<circle cx="528.14" cy="161.65" r="2.05" fill="#fff" stroke="#e2433d" stroke-width="1.0"/>
<circle cx="525.94" cy="161.73" r="2.05" fill="#fff" stroke="#e2433d" stroke-width="1.0"/>
<circle cx="523.74" cy="161.81" r="2.05" fill="#fff" stroke="#e2433d" stroke-width="1.0"/>
<circle cx="521.54" cy="161.88" r="2.05" fill="#fff" stroke="#e2433d" stroke-width="1.0"/>
<circle cx="519.35" cy="161.96" r="2.05" fill="#fff" stroke="#e2433d" stroke-width="1.0"/>
<circle cx="517.15" cy="162.04" r="2.05" fill="#fff" stroke="#e2433d" stroke-width="1.0"/>
<circle cx="514.95" cy="162.12" r="2.05" fill="#fff" stroke="#e2433d" stroke-width="1.0"/>
<circle cx="512.75" cy="162.20" r="2.05" fill="#fff" stroke="#e2433d" stroke-width="1.0"/>
<circle cx="510.55" cy="162.28" r="2.05" fill="#fff" stroke="#e2433d" stroke-width="1.0"/>
<circle cx="508.35" cy="162.36" r="2.05" fill="#fff" stroke="#e2433d" stroke-width="1.0"/>
<circle cx="506.15" cy="162.44" r="2.05" fill="#fff" stroke="#e2433d" stroke-width="1.0"/>
<circle cx="503.96" cy="162.52" r="2.05" fill="#fff" stroke="#e2433d" stroke-width="1.0"/>
<circle cx="501.76" cy="162.60" r="2.05" fill="#fff" stroke="#e2433d" stroke-width="1.0"/>
<circle cx="499.56" cy="162.68" r="2.05" fill="#fff" stroke="#e2433d" stroke-width="1.0"/>
<circle cx="497.36" cy="162.76" r="2.05" fill="#fff" stroke="#e2433d" stroke-width="1.0"/>
<circle cx="495.16" cy="162.83" r="2.05" fill="#fff" stroke="#e2433d" stroke-width="1.0"/>
<circle cx="492.96" cy="162.91" r="2.05" fill="#fff" stroke="#e2433d" stroke-width="1.0"/>
<circle cx="490.76" cy="162.99" r="2.05" fill="#fff" stroke="#e2433d" stroke-width="1.0"/>
<circle cx="488.57" cy="163.07" r="2.05" fill="#fff" stroke="#e2433d" stroke-width="1.0"/>
<circle cx="485.30" cy="242.20" r="2.05" fill="#fff" stroke="#e2433d" stroke-width="1.0"/>
<circle cx="482.70" cy="242.20" r="2.05" fill="#fff" stroke="#e2433d" stroke-width="1.0"/>
<circle cx="480.10" cy="242.20" r="2.05" fill="#fff" stroke="#e2433d" stroke-width="1.0"/>
<circle cx="477.50" cy="242.20" r="2.05" fill="#fff" stroke="#e2433d" stroke-width="1.0"/>
<circle cx="474.90" cy="242.20" r="2.05" fill="#fff" stroke="#e2433d" stroke-width="1.0"/>
<circle cx="472.30" cy="242.20" r="2.05" fill="#fff" stroke="#e2433d" stroke-width="1.0"/>
<circle cx="469.70" cy="242.20" r="2.05" fill="#fff" stroke="#e2433d" stroke-width="1.0"/>
<circle cx="467.10" cy="242.20" r="2.05" fill="#fff" stroke="#e2433d" stroke-width="1.0"/>
<circle cx="464.50" cy="242.20" r="2.05" fill="#fff" stroke="#e2433d" stroke-width="1.0"/>
<circle cx="461.90" cy="242.20" r="2.05" fill="#fff" stroke="#e2433d" stroke-width="1.0"/>
<circle cx="459.70" cy="242.95" r="2.05" fill="#fff" stroke="#e2433d" stroke-width="1.0"/>
<circle cx="458.33" cy="245.16" r="2.05" fill="#fff" stroke="#e2433d" stroke-width="1.0"/>
<circle cx="392.80" cy="254.50" r="2.05" fill="#fff" stroke="#e2433d" stroke-width="1.0"/>
<circle cx="395.00" cy="254.44" r="2.05" fill="#fff" stroke="#e2433d" stroke-width="1.0"/>
<circle cx="397.20" cy="254.38" r="2.05" fill="#fff" stroke="#e2433d" stroke-width="1.0"/>
<circle cx="399.40" cy="254.32" r="2.05" fill="#fff" stroke="#e2433d" stroke-width="1.0"/>
<circle cx="401.60" cy="254.26" r="2.05" fill="#fff" stroke="#e2433d" stroke-width="1.0"/>
<circle cx="403.80" cy="254.20" r="2.05" fill="#fff" stroke="#e2433d" stroke-width="1.0"/>
<circle cx="406.00" cy="254.14" r="2.05" fill="#fff" stroke="#e2433d" stroke-width="1.0"/>
<circle cx="408.19" cy="254.08" r="2.05" fill="#fff" stroke="#e2433d" stroke-width="1.0"/>
<circle cx="410.39" cy="254.02" r="2.05" fill="#fff" stroke="#e2433d" stroke-width="1.0"/>
<circle cx="412.59" cy="253.96" r="2.05" fill="#fff" stroke="#e2433d" stroke-width="1.0"/>
<circle cx="414.79" cy="253.90" r="2.05" fill="#fff" stroke="#e2433d" stroke-width="1.0"/>
<circle cx="416.99" cy="253.84" r="2.05" fill="#fff" stroke="#e2433d" stroke-width="1.0"/>
<circle cx="419.19" cy="253.78" r="2.05" fill="#fff" stroke="#e2433d" stroke-width="1.0"/>
<circle cx="421.39" cy="253.72" r="2.05" fill="#fff" stroke="#e2433d" stroke-width="1.0"/>
<circle cx="423.59" cy="253.66" r="2.05" fill="#fff" stroke="#e2433d" stroke-width="1.0"/>
<circle cx="425.79" cy="253.60" r="2.05" fill="#fff" stroke="#e2433d" stroke-width="1.0"/>
<circle cx="427.99" cy="253.54" r="2.05" fill="#fff" stroke="#e2433d" stroke-width="1.0"/>
<circle cx="430.19" cy="253.48" r="2.05" fill="#fff" stroke="#e2433d" stroke-width="1.0"/>
<circle cx="432.39" cy="253.42" r="2.05" fill="#fff" stroke="#e2433d" stroke-width="1.0"/>
<circle cx="434.58" cy="253.36" r="2.05" fill="#fff" stroke="#e2433d" stroke-width="1.0"/>
<circle cx="436.78" cy="253.30" r="2.05" fill="#fff" stroke="#e2433d" stroke-width="1.0"/>
<circle cx="438.98" cy="253.24" r="2.05" fill="#fff" stroke="#e2433d" stroke-width="1.0"/>
<circle cx="441.18" cy="253.18" r="2.05" fill="#fff" stroke="#e2433d" stroke-width="1.0"/>
<circle cx="443.38" cy="253.12" r="2.05" fill="#fff" stroke="#e2433d" stroke-width="1.0"/>
<circle cx="445.58" cy="253.06" r="2.05" fill="#fff" stroke="#e2433d" stroke-width="1.0"/>
<circle cx="447.78" cy="253.00" r="2.05" fill="#fff" stroke="#e2433d" stroke-width="1.0"/>
<circle cx="449.98" cy="252.94" r="2.05" fill="#fff" stroke="#e2433d" stroke-width="1.0"/>
<circle cx="452.18" cy="252.88" r="2.05" fill="#fff" stroke="#e2433d" stroke-width="1.0"/>
<circle cx="454.38" cy="252.82" r="2.05" fill="#fff" stroke="#e2433d" stroke-width="1.0"/>
<circle cx="456.58" cy="252.77" r="2.05" fill="#fff" stroke="#e2433d" stroke-width="1.0"/>
<circle cx="458.78" cy="252.71" r="2.05" fill="#fff" stroke="#e2433d" stroke-width="1.0"/>
<circle cx="460.97" cy="252.65" r="2.05" fill="#fff" stroke="#e2433d" stroke-width="1.0"/>
<circle cx="463.17" cy="252.59" r="2.05" fill="#fff" stroke="#e2433d" stroke-width="1.0"/>
<circle cx="465.37" cy="252.53" r="2.05" fill="#fff" stroke="#e2433d" stroke-width="1.0"/>
<circle cx="467.57" cy="252.47" r="2.05" fill="#fff" stroke="#e2433d" stroke-width="1.0"/>
<circle cx="469.77" cy="252.41" r="2.05" fill="#fff" stroke="#e2433d" stroke-width="1.0"/>
<circle cx="471.97" cy="252.33" r="2.05" fill="#fff" stroke="#e2433d" stroke-width="1.0"/>
<circle cx="474.17" cy="252.26" r="2.05" fill="#fff" stroke="#e2433d" stroke-width="1.0"/>
<circle cx="476.37" cy="252.18" r="2.05" fill="#fff" stroke="#e2433d" stroke-width="1.0"/>
<circle cx="478.57" cy="252.10" r="2.05" fill="#fff" stroke="#e2433d" stroke-width="1.0"/>
<circle cx="480.76" cy="252.03" r="2.05" fill="#fff" stroke="#e2433d" stroke-width="1.0"/>
<circle cx="482.96" cy="251.95" r="2.05" fill="#fff" stroke="#e2433d" stroke-width="1.0"/>
<circle cx="485.16" cy="251.87" r="2.05" fill="#fff" stroke="#e2433d" stroke-width="1.0"/>
<circle cx="487.36" cy="251.80" r="2.05" fill="#fff" stroke="#e2433d" stroke-width="1.0"/>
<circle cx="489.56" cy="251.72" r="2.05" fill="#fff" stroke="#e2433d" stroke-width="1.0"/>
<circle cx="491.76" cy="251.65" r="2.05" fill="#fff" stroke="#e2433d" stroke-width="1.0"/>
<circle cx="493.96" cy="251.57" r="2.05" fill="#fff" stroke="#e2433d" stroke-width="1.0"/>
<circle cx="496.16" cy="251.49" r="2.05" fill="#fff" stroke="#e2433d" stroke-width="1.0"/>
<circle cx="498.35" cy="251.42" r="2.05" fill="#fff" stroke="#e2433d" stroke-width="1.0"/>
<circle cx="500.55" cy="251.34" r="2.05" fill="#fff" stroke="#e2433d" stroke-width="1.0"/>
<circle cx="502.75" cy="251.27" r="2.05" fill="#fff" stroke="#e2433d" stroke-width="1.0"/>
<circle cx="504.95" cy="251.19" r="2.05" fill="#fff" stroke="#e2433d" stroke-width="1.0"/>
<circle cx="507.15" cy="251.11" r="2.05" fill="#fff" stroke="#e2433d" stroke-width="1.0"/>
<circle cx="509.35" cy="251.04" r="2.05" fill="#fff" stroke="#e2433d" stroke-width="1.0"/>
<circle cx="511.55" cy="250.96" r="2.05" fill="#fff" stroke="#e2433d" stroke-width="1.0"/>
<circle cx="513.75" cy="250.88" r="2.05" fill="#fff" stroke="#e2433d" stroke-width="1.0"/>
<circle cx="515.94" cy="250.81" r="2.05" fill="#fff" stroke="#e2433d" stroke-width="1.0"/>
<circle cx="518.14" cy="250.73" r="2.05" fill="#fff" stroke="#e2433d" stroke-width="1.0"/>
<circle cx="520.34" cy="250.66" r="2.05" fill="#fff" stroke="#e2433d" stroke-width="1.0"/>
<circle cx="522.54" cy="250.58" r="2.05" fill="#fff" stroke="#e2433d" stroke-width="1.0"/>
<circle cx="524.74" cy="250.50" r="2.05" fill="#fff" stroke="#e2433d" stroke-width="1.0"/>
<circle cx="526.94" cy="250.43" r="2.05" fill="#fff" stroke="#e2433d" stroke-width="1.0"/>
<circle cx="529.14" cy="250.35" r="2.05" fill="#fff" stroke="#e2433d" stroke-width="1.0"/>
<circle cx="531.33" cy="250.28" r="2.05" fill="#fff" stroke="#e2433d" stroke-width="1.0"/>
<circle cx="536.10" cy="171.80" r="2.05" fill="#fff" stroke="#e2433d" stroke-width="1.0"/>
<circle cx="538.70" cy="171.80" r="2.05" fill="#fff" stroke="#e2433d" stroke-width="1.0"/>
<circle cx="541.30" cy="171.80" r="2.05" fill="#fff" stroke="#e2433d" stroke-width="1.0"/>
<circle cx="543.90" cy="171.80" r="2.05" fill="#fff" stroke="#e2433d" stroke-width="1.0"/>
<circle cx="546.50" cy="171.80" r="2.05" fill="#fff" stroke="#e2433d" stroke-width="1.0"/>
<circle cx="549.10" cy="171.80" r="2.05" fill="#fff" stroke="#e2433d" stroke-width="1.0"/>
<circle cx="551.70" cy="171.80" r="2.05" fill="#fff" stroke="#e2433d" stroke-width="1.0"/>
<circle cx="554.30" cy="171.80" r="2.05" fill="#fff" stroke="#e2433d" stroke-width="1.0"/>
<circle cx="556.90" cy="171.80" r="2.05" fill="#fff" stroke="#e2433d" stroke-width="1.0"/>
<circle cx="559.50" cy="171.80" r="2.05" fill="#fff" stroke="#e2433d" stroke-width="1.0"/>
<circle cx="562.10" cy="171.80" r="2.05" fill="#fff" stroke="#e2433d" stroke-width="1.0"/>
<circle cx="522.40" cy="161.80" r="2.05" fill="#fff" stroke="#e2433d" stroke-width="1.0"/>
<circle cx="521.20" cy="161.84" r="2.05" fill="#fff" stroke="#e2433d" stroke-width="1.0"/>
<circle cx="520.00" cy="161.88" r="2.05" fill="#fff" stroke="#e2433d" stroke-width="1.0"/>
<circle cx="518.80" cy="161.92" r="2.05" fill="#fff" stroke="#e2433d" stroke-width="1.0"/>
<circle cx="517.60" cy="161.96" r="2.05" fill="#fff" stroke="#e2433d" stroke-width="1.0"/>
<circle cx="516.40" cy="162.00" r="2.05" fill="#fff" stroke="#e2433d" stroke-width="1.0"/>
<circle cx="515.20" cy="162.04" r="2.05" fill="#fff" stroke="#e2433d" stroke-width="1.0"/>
<circle cx="514.00" cy="162.08" r="2.05" fill="#fff" stroke="#e2433d" stroke-width="1.0"/>
<circle cx="512.81" cy="162.12" r="2.05" fill="#fff" stroke="#e2433d" stroke-width="1.0"/>
<circle cx="511.61" cy="162.16" r="2.05" fill="#fff" stroke="#e2433d" stroke-width="1.0"/>
<circle cx="510.41" cy="162.20" r="2.05" fill="#fff" stroke="#e2433d" stroke-width="1.0"/>
<circle cx="509.21" cy="162.25" r="2.05" fill="#fff" stroke="#e2433d" stroke-width="1.0"/>
<circle cx="508.01" cy="162.29" r="2.05" fill="#fff" stroke="#e2433d" stroke-width="1.0"/>
<circle cx="506.81" cy="162.33" r="2.05" fill="#fff" stroke="#e2433d" stroke-width="1.0"/>
<circle cx="505.61" cy="162.37" r="2.05" fill="#fff" stroke="#e2433d" stroke-width="1.0"/>
<circle cx="504.41" cy="162.41" r="2.05" fill="#fff" stroke="#e2433d" stroke-width="1.0"/>
<circle cx="503.21" cy="162.45" r="2.05" fill="#fff" stroke="#e2433d" stroke-width="1.0"/>
<circle cx="502.01" cy="162.49" r="2.05" fill="#fff" stroke="#e2433d" stroke-width="1.0"/>
<circle cx="500.81" cy="162.53" r="2.05" fill="#fff" stroke="#e2433d" stroke-width="1.0"/>
<circle cx="499.61" cy="162.57" r="2.05" fill="#fff" stroke="#e2433d" stroke-width="1.0"/>
<circle cx="496.00" cy="251.80" r="2.05" fill="#fff" stroke="#e2433d" stroke-width="1.0"/>
<circle cx="497.20" cy="251.76" r="2.05" fill="#fff" stroke="#e2433d" stroke-width="1.0"/>
<circle cx="498.40" cy="251.72" r="2.05" fill="#fff" stroke="#e2433d" stroke-width="1.0"/>
<circle cx="499.60" cy="251.68" r="2.05" fill="#fff" stroke="#e2433d" stroke-width="1.0"/>
<circle cx="500.80" cy="251.65" r="2.05" fill="#fff" stroke="#e2433d" stroke-width="1.0"/>
<circle cx="502.00" cy="251.61" r="2.05" fill="#fff" stroke="#e2433d" stroke-width="1.0"/>
<circle cx="503.20" cy="251.57" r="2.05" fill="#fff" stroke="#e2433d" stroke-width="1.0"/>
<circle cx="504.40" cy="251.53" r="2.05" fill="#fff" stroke="#e2433d" stroke-width="1.0"/>
<circle cx="505.60" cy="251.49" r="2.05" fill="#fff" stroke="#e2433d" stroke-width="1.0"/>
<circle cx="506.79" cy="251.45" r="2.05" fill="#fff" stroke="#e2433d" stroke-width="1.0"/>
<circle cx="507.99" cy="251.42" r="2.05" fill="#fff" stroke="#e2433d" stroke-width="1.0"/>
<circle cx="509.19" cy="251.38" r="2.05" fill="#fff" stroke="#e2433d" stroke-width="1.0"/>
<circle cx="510.39" cy="251.34" r="2.05" fill="#fff" stroke="#e2433d" stroke-width="1.0"/>
<circle cx="511.59" cy="251.30" r="2.05" fill="#fff" stroke="#e2433d" stroke-width="1.0"/>
<circle cx="512.79" cy="251.26" r="2.05" fill="#fff" stroke="#e2433d" stroke-width="1.0"/>
<circle cx="513.99" cy="251.22" r="2.05" fill="#fff" stroke="#e2433d" stroke-width="1.0"/>
<circle cx="515.19" cy="251.19" r="2.05" fill="#fff" stroke="#e2433d" stroke-width="1.0"/>
<circle cx="516.39" cy="251.15" r="2.05" fill="#fff" stroke="#e2433d" stroke-width="1.0"/>
<circle cx="517.59" cy="251.11" r="2.05" fill="#fff" stroke="#e2433d" stroke-width="1.0"/>
<circle cx="518.79" cy="251.07" r="2.05" fill="#fff" stroke="#e2433d" stroke-width="1.0"/>
<circle cx="519.99" cy="251.03" r="2.05" fill="#fff" stroke="#e2433d" stroke-width="1.0"/>
<circle cx="487.10" cy="169.80" r="2.05" fill="#fff" stroke="#e2433d" stroke-width="1.0"/>
<circle cx="564.20" cy="166.00" r="2.05" fill="#fff" stroke="#e2433d" stroke-width="1.0"/>
<line x1="466.3" y1="234.6" x2="466.3" y2="239.5" stroke="#141414" stroke-width="1.5"/>
<polygon points="465.7,230.1 466.90000000000003,230.1 468.0,235.1 464.6,235.1" fill="#141414"/>
<line x1="475.4" y1="225.3" x2="475.4" y2="232.6" stroke="#7a168c" stroke-width="2.0"/>
<polygon points="474.7,239.5 476.09999999999997,239.5 477.84999999999997,232.1 472.95,232.1" fill="#7a168c"/>
<line x1="406.8" y1="240.8" x2="406.8" y2="245.5" stroke="#141414" stroke-width="1.5"/>
<polygon points="406.2,250 407.40000000000003,250 408.5,245.0 405.1,245.0" fill="#141414"/>
<line x1="415.6" y1="236.5" x2="415.6" y2="243.1" stroke="#7a168c" stroke-width="2.0"/>
<polygon points="414.90000000000003,250 416.3,250 418.05,242.6 413.15000000000003,242.6" fill="#7a168c"/>
<line x1="612.4" y1="173.1" x2="612.4" y2="177.7" stroke="#141414" stroke-width="1.5"/>
<polygon points="611.8,168.6 613.0,168.6 614.1,173.6 610.6999999999999,173.6" fill="#141414"/>
<line x1="621" y1="170.6" x2="621" y2="177.7" stroke="#7a168c" stroke-width="2.0"/>
<polygon points="620.3,163.7 621.7,163.7 623.45,171.1 618.55,171.1" fill="#7a168c"/>
<line x1="545.5" y1="177.1" x2="545.5" y2="182.0" stroke="#141414" stroke-width="1.5"/>
<polygon points="544.9,186.5 546.1,186.5 547.2,181.5 543.8,181.5" fill="#141414"/>
<line x1="553.5" y1="183.5" x2="553.5" y2="191" stroke="#7a168c" stroke-width="2.0"/>
<polygon points="552.8,176.6 554.2,176.6 555.95,184.0 551.05,184.0" fill="#7a168c"/>
<polyline points="486.40,301.70 483.90,361.30 481.20,386.00" fill="none" stroke="#3f3fdc" stroke-width="0.85"/>
<polyline points="536.10,388.00 536.70,377.30 540.20,303.70" fill="none" stroke="#3f3fdc" stroke-width="0.85"/>
<polyline points="392.00,390.70 470.00,389.30 536.10,388.00" fill="none" stroke="#3f3fdc" stroke-width="0.8"/>
<polyline points="629.00,298.40 560.00,298.50 498.10,298.70 485.10,301.70" fill="none" stroke="#3f3fdc" stroke-width="0.8"/>
<polygon points="629.00,296.22 626.90,299.85 631.10,299.85" fill="#fff" stroke="#3f3fdc" stroke-width="0.9"/>
<polygon points="626.40,296.22 624.30,299.86 628.50,299.86" fill="#fff" stroke="#3f3fdc" stroke-width="0.9"/>
<polygon points="623.80,296.23 621.70,299.86 625.90,299.86" fill="#fff" stroke="#3f3fdc" stroke-width="0.9"/>
<polygon points="621.20,296.23 619.10,299.87 623.30,299.87" fill="#fff" stroke="#3f3fdc" stroke-width="0.9"/>
<polygon points="618.60,296.23 616.50,299.87 620.70,299.87" fill="#fff" stroke="#3f3fdc" stroke-width="0.9"/>
<polygon points="616.00,296.24 613.90,299.87 618.10,299.87" fill="#fff" stroke="#3f3fdc" stroke-width="0.9"/>
<polygon points="613.40,296.24 611.30,299.88 615.50,299.88" fill="#fff" stroke="#3f3fdc" stroke-width="0.9"/>
<polygon points="610.80,296.24 608.70,299.88 612.90,299.88" fill="#fff" stroke="#3f3fdc" stroke-width="0.9"/>
<polygon points="608.20,296.25 606.10,299.89 610.30,299.89" fill="#fff" stroke="#3f3fdc" stroke-width="0.9"/>
<polygon points="605.60,296.25 603.50,299.89 607.70,299.89" fill="#fff" stroke="#3f3fdc" stroke-width="0.9"/>
<polygon points="603.00,296.26 600.90,299.89 605.10,299.89" fill="#fff" stroke="#3f3fdc" stroke-width="0.9"/>
<polygon points="600.40,296.26 598.30,299.90 602.50,299.90" fill="#fff" stroke="#3f3fdc" stroke-width="0.9"/>
<polygon points="597.80,296.26 595.70,299.90 599.90,299.90" fill="#fff" stroke="#3f3fdc" stroke-width="0.9"/>
<polygon points="595.20,296.27 593.10,299.90 597.30,299.90" fill="#fff" stroke="#3f3fdc" stroke-width="0.9"/>
<polygon points="592.60,296.27 590.50,299.91 594.70,299.91" fill="#fff" stroke="#3f3fdc" stroke-width="0.9"/>
<polygon points="590.00,296.27 587.90,299.91 592.10,299.91" fill="#fff" stroke="#3f3fdc" stroke-width="0.9"/>
<polygon points="587.40,296.28 585.30,299.92 589.50,299.92" fill="#fff" stroke="#3f3fdc" stroke-width="0.9"/>
<polygon points="584.80,296.28 582.70,299.92 586.90,299.92" fill="#fff" stroke="#3f3fdc" stroke-width="0.9"/>
<polygon points="582.20,296.29 580.10,299.92 584.30,299.92" fill="#fff" stroke="#3f3fdc" stroke-width="0.9"/>
<polygon points="579.60,296.29 577.50,299.93 581.70,299.93" fill="#fff" stroke="#3f3fdc" stroke-width="0.9"/>
<polygon points="577.00,296.29 574.90,299.93 579.10,299.93" fill="#fff" stroke="#3f3fdc" stroke-width="0.9"/>
<polygon points="574.40,296.30 572.30,299.93 576.50,299.93" fill="#fff" stroke="#3f3fdc" stroke-width="0.9"/>
<polygon points="571.80,296.30 569.70,299.94 573.90,299.94" fill="#fff" stroke="#3f3fdc" stroke-width="0.9"/>
<polygon points="569.20,296.30 567.10,299.94 571.30,299.94" fill="#fff" stroke="#3f3fdc" stroke-width="0.9"/>
<polygon points="566.60,296.31 564.50,299.95 568.70,299.95" fill="#fff" stroke="#3f3fdc" stroke-width="0.9"/>
<polygon points="564.00,296.31 561.90,299.95 566.10,299.95" fill="#fff" stroke="#3f3fdc" stroke-width="0.9"/>
<polygon points="561.40,296.32 559.30,299.95 563.50,299.95" fill="#fff" stroke="#3f3fdc" stroke-width="0.9"/>
<polygon points="558.80,296.32 556.70,299.96 560.90,299.96" fill="#fff" stroke="#3f3fdc" stroke-width="0.9"/>
<polygon points="556.20,296.33 554.10,299.97 558.30,299.97" fill="#fff" stroke="#3f3fdc" stroke-width="0.9"/>
<polygon points="553.60,296.34 551.50,299.98 555.70,299.98" fill="#fff" stroke="#3f3fdc" stroke-width="0.9"/>
<polygon points="551.00,296.35 548.90,299.98 553.10,299.98" fill="#fff" stroke="#3f3fdc" stroke-width="0.9"/>
<polygon points="548.40,296.36 546.30,299.99 550.50,299.99" fill="#fff" stroke="#3f3fdc" stroke-width="0.9"/>
<polygon points="545.80,296.36 543.70,300.00 547.90,300.00" fill="#fff" stroke="#3f3fdc" stroke-width="0.9"/>
<polygon points="543.20,296.37 541.10,300.01 545.30,300.01" fill="#fff" stroke="#3f3fdc" stroke-width="0.9"/>
<polygon points="540.60,296.38 538.50,300.02 542.70,300.02" fill="#fff" stroke="#3f3fdc" stroke-width="0.9"/>
<polygon points="538.00,296.39 535.90,300.03 540.10,300.03" fill="#fff" stroke="#3f3fdc" stroke-width="0.9"/>
<polygon points="535.40,296.40 533.30,300.03 537.50,300.03" fill="#fff" stroke="#3f3fdc" stroke-width="0.9"/>
<polygon points="532.80,296.41 530.70,300.04 534.90,300.04" fill="#fff" stroke="#3f3fdc" stroke-width="0.9"/>
<polygon points="530.20,296.41 528.10,300.05 532.30,300.05" fill="#fff" stroke="#3f3fdc" stroke-width="0.9"/>
<polygon points="527.60,296.42 525.50,300.06 529.70,300.06" fill="#fff" stroke="#3f3fdc" stroke-width="0.9"/>
<polygon points="525.00,296.43 522.90,300.07 527.10,300.07" fill="#fff" stroke="#3f3fdc" stroke-width="0.9"/>
<polygon points="522.40,296.44 520.30,300.08 524.50,300.08" fill="#fff" stroke="#3f3fdc" stroke-width="0.9"/>
<polygon points="519.80,296.45 517.70,300.08 521.90,300.08" fill="#fff" stroke="#3f3fdc" stroke-width="0.9"/>
<polygon points="517.20,296.46 515.10,300.09 519.30,300.09" fill="#fff" stroke="#3f3fdc" stroke-width="0.9"/>
<polygon points="514.60,296.46 512.50,300.10 516.70,300.10" fill="#fff" stroke="#3f3fdc" stroke-width="0.9"/>
<polygon points="512.00,296.47 509.90,300.11 514.10,300.11" fill="#fff" stroke="#3f3fdc" stroke-width="0.9"/>
<polygon points="509.40,296.48 507.30,300.12 511.50,300.12" fill="#fff" stroke="#3f3fdc" stroke-width="0.9"/>
<polygon points="506.80,296.49 504.70,300.13 508.90,300.13" fill="#fff" stroke="#3f3fdc" stroke-width="0.9"/>
<polygon points="504.20,296.50 502.10,300.14 506.30,300.14" fill="#fff" stroke="#3f3fdc" stroke-width="0.9"/>
<polygon points="501.60,296.51 499.50,300.14 503.70,300.14" fill="#fff" stroke="#3f3fdc" stroke-width="0.9"/>
<polygon points="499.00,296.51 496.90,300.15 501.10,300.15" fill="#fff" stroke="#3f3fdc" stroke-width="0.9"/>
<polygon points="496.44,296.90 494.34,300.54 498.54,300.54" fill="#fff" stroke="#3f3fdc" stroke-width="0.9"/>
<polygon points="493.91,297.48 491.81,301.12 496.01,301.12" fill="#fff" stroke="#3f3fdc" stroke-width="0.9"/>
<polygon points="491.38,298.07 489.28,301.71 493.48,301.71" fill="#fff" stroke="#3f3fdc" stroke-width="0.9"/>
<polygon points="488.84,298.65 486.74,302.29 490.94,302.29" fill="#fff" stroke="#3f3fdc" stroke-width="0.9"/>
<polygon points="486.31,299.24 484.21,302.88 488.41,302.88" fill="#fff" stroke="#3f3fdc" stroke-width="0.9"/>
<polygon points="392.00,388.52 389.90,392.15 394.10,392.15" fill="#fff" stroke="#3f3fdc" stroke-width="0.9"/>
<polygon points="394.60,388.47 392.50,392.11 396.70,392.11" fill="#fff" stroke="#3f3fdc" stroke-width="0.9"/>
<polygon points="397.20,388.42 395.10,392.06 399.30,392.06" fill="#fff" stroke="#3f3fdc" stroke-width="0.9"/>
<polygon points="399.80,388.38 397.70,392.01 401.90,392.01" fill="#fff" stroke="#3f3fdc" stroke-width="0.9"/>
<polygon points="402.40,388.33 400.30,391.97 404.50,391.97" fill="#fff" stroke="#3f3fdc" stroke-width="0.9"/>
<polygon points="405.00,388.28 402.90,391.92 407.10,391.92" fill="#fff" stroke="#3f3fdc" stroke-width="0.9"/>
<polygon points="407.60,388.24 405.50,391.87 409.70,391.87" fill="#fff" stroke="#3f3fdc" stroke-width="0.9"/>
<polygon points="410.20,388.19 408.10,391.83 412.30,391.83" fill="#fff" stroke="#3f3fdc" stroke-width="0.9"/>
<polygon points="412.80,388.14 410.70,391.78 414.90,391.78" fill="#fff" stroke="#3f3fdc" stroke-width="0.9"/>
<polygon points="415.40,388.10 413.30,391.73 417.50,391.73" fill="#fff" stroke="#3f3fdc" stroke-width="0.9"/>
<polygon points="418.00,388.05 415.90,391.69 420.10,391.69" fill="#fff" stroke="#3f3fdc" stroke-width="0.9"/>
<polygon points="420.60,388.00 418.50,391.64 422.70,391.64" fill="#fff" stroke="#3f3fdc" stroke-width="0.9"/>
<polygon points="423.19,387.96 421.09,391.59 425.29,391.59" fill="#fff" stroke="#3f3fdc" stroke-width="0.9"/>
<polygon points="425.79,387.91 423.69,391.55 427.89,391.55" fill="#fff" stroke="#3f3fdc" stroke-width="0.9"/>
<polygon points="428.39,387.86 426.29,391.50 430.49,391.50" fill="#fff" stroke="#3f3fdc" stroke-width="0.9"/>
<polygon points="430.99,387.82 428.89,391.45 433.09,391.45" fill="#fff" stroke="#3f3fdc" stroke-width="0.9"/>
<polygon points="433.59,387.77 431.49,391.41 435.69,391.41" fill="#fff" stroke="#3f3fdc" stroke-width="0.9"/>
<polygon points="436.19,387.72 434.09,391.36 438.29,391.36" fill="#fff" stroke="#3f3fdc" stroke-width="0.9"/>
<polygon points="438.79,387.68 436.69,391.32 440.89,391.32" fill="#fff" stroke="#3f3fdc" stroke-width="0.9"/>
<polygon points="441.39,387.63 439.29,391.27 443.49,391.27" fill="#fff" stroke="#3f3fdc" stroke-width="0.9"/>
<polygon points="443.99,387.58 441.89,391.22 446.09,391.22" fill="#fff" stroke="#3f3fdc" stroke-width="0.9"/>
<polygon points="446.59,387.54 444.49,391.18 448.69,391.18" fill="#fff" stroke="#3f3fdc" stroke-width="0.9"/>
<polygon points="449.19,387.49 447.09,391.13 451.29,391.13" fill="#fff" stroke="#3f3fdc" stroke-width="0.9"/>
<polygon points="451.79,387.44 449.69,391.08 453.89,391.08" fill="#fff" stroke="#3f3fdc" stroke-width="0.9"/>
<polygon points="454.39,387.40 452.29,391.04 456.49,391.04" fill="#fff" stroke="#3f3fdc" stroke-width="0.9"/>
<polygon points="456.99,387.35 454.89,390.99 459.09,390.99" fill="#fff" stroke="#3f3fdc" stroke-width="0.9"/>
<polygon points="459.59,387.30 457.49,390.94 461.69,390.94" fill="#fff" stroke="#3f3fdc" stroke-width="0.9"/>
<polygon points="462.19,387.26 460.09,390.90 464.29,390.90" fill="#fff" stroke="#3f3fdc" stroke-width="0.9"/>
<polygon points="464.79,387.21 462.69,390.85 466.89,390.85" fill="#fff" stroke="#3f3fdc" stroke-width="0.9"/>
<polygon points="467.39,387.16 465.29,390.80 469.49,390.80" fill="#fff" stroke="#3f3fdc" stroke-width="0.9"/>
<polygon points="469.99,387.12 467.89,390.76 472.09,390.76" fill="#fff" stroke="#3f3fdc" stroke-width="0.9"/>
<polygon points="472.59,387.07 470.49,390.70 474.69,390.70" fill="#fff" stroke="#3f3fdc" stroke-width="0.9"/>
<polygon points="475.19,387.02 473.09,390.65 477.29,390.65" fill="#fff" stroke="#3f3fdc" stroke-width="0.9"/>
<polygon points="477.79,386.96 475.69,390.60 479.89,390.60" fill="#fff" stroke="#3f3fdc" stroke-width="0.9"/>
<polygon points="480.39,386.91 478.29,390.55 482.49,390.55" fill="#fff" stroke="#3f3fdc" stroke-width="0.9"/>
<polygon points="482.98,386.86 480.88,390.50 485.08,390.50" fill="#fff" stroke="#3f3fdc" stroke-width="0.9"/>
<polygon points="485.58,386.81 483.48,390.45 487.68,390.45" fill="#fff" stroke="#3f3fdc" stroke-width="0.9"/>
<polygon points="488.18,386.76 486.08,390.40 490.28,390.40" fill="#fff" stroke="#3f3fdc" stroke-width="0.9"/>
<polygon points="490.78,386.71 488.68,390.35 492.88,390.35" fill="#fff" stroke="#3f3fdc" stroke-width="0.9"/>
<polygon points="493.38,386.66 491.28,390.30 495.48,390.30" fill="#fff" stroke="#3f3fdc" stroke-width="0.9"/>
<polygon points="495.98,386.61 493.88,390.24 498.08,390.24" fill="#fff" stroke="#3f3fdc" stroke-width="0.9"/>
<polygon points="498.58,386.56 496.48,390.19 500.68,390.19" fill="#fff" stroke="#3f3fdc" stroke-width="0.9"/>
<polygon points="501.18,386.50 499.08,390.14 503.28,390.14" fill="#fff" stroke="#3f3fdc" stroke-width="0.9"/>
<polygon points="503.78,386.45 501.68,390.09 505.88,390.09" fill="#fff" stroke="#3f3fdc" stroke-width="0.9"/>
<polygon points="506.38,386.40 504.28,390.04 508.48,390.04" fill="#fff" stroke="#3f3fdc" stroke-width="0.9"/>
<polygon points="508.98,386.35 506.88,389.99 511.08,389.99" fill="#fff" stroke="#3f3fdc" stroke-width="0.9"/>
<polygon points="511.58,386.30 509.48,389.94 513.68,389.94" fill="#fff" stroke="#3f3fdc" stroke-width="0.9"/>
<polygon points="514.18,386.25 512.08,389.89 516.28,389.89" fill="#fff" stroke="#3f3fdc" stroke-width="0.9"/>
<polygon points="516.78,386.20 514.68,389.83 518.88,389.83" fill="#fff" stroke="#3f3fdc" stroke-width="0.9"/>
<polygon points="519.38,386.15 517.28,389.78 521.48,389.78" fill="#fff" stroke="#3f3fdc" stroke-width="0.9"/>
<polygon points="521.98,386.10 519.88,389.73 524.08,389.73" fill="#fff" stroke="#3f3fdc" stroke-width="0.9"/>
<polygon points="524.58,386.04 522.48,389.68 526.68,389.68" fill="#fff" stroke="#3f3fdc" stroke-width="0.9"/>
<polygon points="527.18,385.99 525.08,389.63 529.28,389.63" fill="#fff" stroke="#3f3fdc" stroke-width="0.9"/>
<polygon points="529.78,385.94 527.68,389.58 531.88,389.58" fill="#fff" stroke="#3f3fdc" stroke-width="0.9"/>
<polygon points="532.38,385.89 530.28,389.53 534.48,389.53" fill="#fff" stroke="#3f3fdc" stroke-width="0.9"/>
<polygon points="534.97,385.84 532.87,389.48 537.07,389.48" fill="#fff" stroke="#3f3fdc" stroke-width="0.9"/>
<polygon points="461.40,384.92 459.40,388.39 463.40,388.39" fill="#fff" stroke="#3f3fdc" stroke-width="0.9"/>
<polygon points="463.74,384.38 461.74,387.84 465.74,387.84" fill="#fff" stroke="#3f3fdc" stroke-width="0.9"/>
<polygon points="466.08,383.83 464.08,387.30 468.08,387.30" fill="#fff" stroke="#3f3fdc" stroke-width="0.9"/>
<polygon points="468.41,383.29 466.41,386.75 470.41,386.75" fill="#fff" stroke="#3f3fdc" stroke-width="0.9"/>
<polygon points="470.77,382.92 468.77,386.39 472.77,386.39" fill="#fff" stroke="#3f3fdc" stroke-width="0.9"/>
<polygon points="473.17,382.92 471.17,386.39 475.17,386.39" fill="#fff" stroke="#3f3fdc" stroke-width="0.9"/>
<polygon points="475.57,382.92 473.57,386.39 477.57,386.39" fill="#fff" stroke="#3f3fdc" stroke-width="0.9"/>
<polygon points="477.97,382.92 475.97,386.39 479.97,386.39" fill="#fff" stroke="#3f3fdc" stroke-width="0.9"/>
<polygon points="480.37,382.92 478.37,386.39 482.37,386.39" fill="#fff" stroke="#3f3fdc" stroke-width="0.9"/>
<polygon points="482.77,382.92 480.77,386.39 484.77,386.39" fill="#fff" stroke="#3f3fdc" stroke-width="0.9"/>
<polygon points="466.00,380.92 464.00,384.39 468.00,384.39" fill="#fff" stroke="#3f3fdc" stroke-width="0.9"/>
<polygon points="468.40,380.91 466.40,384.37 470.40,384.37" fill="#fff" stroke="#3f3fdc" stroke-width="0.9"/>
<polygon points="470.80,380.89 468.80,384.35 472.80,384.35" fill="#fff" stroke="#3f3fdc" stroke-width="0.9"/>
<polygon points="473.20,380.87 471.20,384.34 475.20,384.34" fill="#fff" stroke="#3f3fdc" stroke-width="0.9"/>
<polygon points="475.60,380.86 473.60,384.32 477.60,384.32" fill="#fff" stroke="#3f3fdc" stroke-width="0.9"/>
<polygon points="478.00,380.84 476.00,384.31 480.00,384.31" fill="#fff" stroke="#3f3fdc" stroke-width="0.9"/>
<polygon points="480.40,380.83 478.40,384.29 482.40,384.29" fill="#fff" stroke="#3f3fdc" stroke-width="0.9"/>
<polygon points="540.00,300.42 538.00,303.89 542.00,303.89" fill="#fff" stroke="#3f3fdc" stroke-width="0.9"/>
<polygon points="542.39,300.26 540.39,303.73 544.39,303.73" fill="#fff" stroke="#3f3fdc" stroke-width="0.9"/>
<polygon points="544.79,300.11 542.79,303.57 546.79,303.57" fill="#fff" stroke="#3f3fdc" stroke-width="0.9"/>
<polygon points="547.18,299.95 545.18,303.41 549.18,303.41" fill="#fff" stroke="#3f3fdc" stroke-width="0.9"/>
<polygon points="549.58,299.79 547.58,303.26 551.58,303.26" fill="#fff" stroke="#3f3fdc" stroke-width="0.9"/>
<polygon points="551.97,299.64 549.97,303.10 553.97,303.10" fill="#fff" stroke="#3f3fdc" stroke-width="0.9"/>
<polygon points="554.37,299.48 552.37,302.94 556.37,302.94" fill="#fff" stroke="#3f3fdc" stroke-width="0.9"/>
<polygon points="556.76,299.32 554.76,302.79 558.76,302.79" fill="#fff" stroke="#3f3fdc" stroke-width="0.9"/>
<polygon points="559.16,299.17 557.16,302.63 561.16,302.63" fill="#fff" stroke="#3f3fdc" stroke-width="0.9"/>
<polygon points="561.55,299.01 559.55,302.47 563.55,302.47" fill="#fff" stroke="#3f3fdc" stroke-width="0.9"/>
<polygon points="523.30,296.42 521.20,300.05 525.40,300.05" fill="#fff" stroke="#3f3fdc" stroke-width="0.9"/>
<polygon points="522.10,296.42 520.00,300.06 524.20,300.06" fill="#fff" stroke="#3f3fdc" stroke-width="0.9"/>
<polygon points="520.90,296.43 518.80,300.06 523.00,300.06" fill="#fff" stroke="#3f3fdc" stroke-width="0.9"/>
<polygon points="519.70,296.43 517.60,300.07 521.80,300.07" fill="#fff" stroke="#3f3fdc" stroke-width="0.9"/>
<polygon points="518.50,296.44 516.40,300.07 520.60,300.07" fill="#fff" stroke="#3f3fdc" stroke-width="0.9"/>
<polygon points="517.30,296.44 515.20,300.08 519.40,300.08" fill="#fff" stroke="#3f3fdc" stroke-width="0.9"/>
<polygon points="516.10,296.45 514.00,300.08 518.20,300.08" fill="#fff" stroke="#3f3fdc" stroke-width="0.9"/>
<polygon points="514.90,296.45 512.80,300.09 517.00,300.09" fill="#fff" stroke="#3f3fdc" stroke-width="0.9"/>
<polygon points="513.70,296.46 511.60,300.09 515.80,300.09" fill="#fff" stroke="#3f3fdc" stroke-width="0.9"/>
<polygon points="512.50,296.46 510.40,300.10 514.60,300.10" fill="#fff" stroke="#3f3fdc" stroke-width="0.9"/>
<polygon points="511.30,296.47 509.20,300.10 513.40,300.10" fill="#fff" stroke="#3f3fdc" stroke-width="0.9"/>
<polygon points="510.10,296.47 508.00,300.11 512.20,300.11" fill="#fff" stroke="#3f3fdc" stroke-width="0.9"/>
<polygon points="508.90,296.48 506.80,300.11 511.00,300.11" fill="#fff" stroke="#3f3fdc" stroke-width="0.9"/>
<polygon points="507.70,296.48 505.60,300.12 509.80,300.12" fill="#fff" stroke="#3f3fdc" stroke-width="0.9"/>
<polygon points="506.50,296.49 504.40,300.12 508.60,300.12" fill="#fff" stroke="#3f3fdc" stroke-width="0.9"/>
<polygon points="505.30,296.49 503.20,300.13 507.40,300.13" fill="#fff" stroke="#3f3fdc" stroke-width="0.9"/>
<polygon points="504.10,296.50 502.00,300.13 506.20,300.13" fill="#fff" stroke="#3f3fdc" stroke-width="0.9"/>
<polygon points="502.90,296.50 500.80,300.14 505.00,300.14" fill="#fff" stroke="#3f3fdc" stroke-width="0.9"/>
<polygon points="501.70,296.51 499.60,300.14 503.80,300.14" fill="#fff" stroke="#3f3fdc" stroke-width="0.9"/>
<polygon points="500.50,296.51 498.40,300.15 502.60,300.15" fill="#fff" stroke="#3f3fdc" stroke-width="0.9"/>
<polygon points="499.30,296.52 497.20,300.15 501.40,300.15" fill="#fff" stroke="#3f3fdc" stroke-width="0.9"/>
<polygon points="496.90,387.02 494.80,390.65 499.00,390.65" fill="#fff" stroke="#3f3fdc" stroke-width="0.9"/>
<polygon points="498.10,386.99 496.00,390.63 500.20,390.63" fill="#fff" stroke="#3f3fdc" stroke-width="0.9"/>
<polygon points="499.30,386.96 497.20,390.60 501.40,390.60" fill="#fff" stroke="#3f3fdc" stroke-width="0.9"/>
<polygon points="500.50,386.94 498.40,390.57 502.60,390.57" fill="#fff" stroke="#3f3fdc" stroke-width="0.9"/>
<polygon points="501.70,386.91 499.60,390.55 503.80,390.55" fill="#fff" stroke="#3f3fdc" stroke-width="0.9"/>
<polygon points="502.90,386.88 500.80,390.52 505.00,390.52" fill="#fff" stroke="#3f3fdc" stroke-width="0.9"/>
<polygon points="504.10,386.85 502.00,390.49 506.20,390.49" fill="#fff" stroke="#3f3fdc" stroke-width="0.9"/>
<polygon points="505.30,386.83 503.20,390.46 507.40,390.46" fill="#fff" stroke="#3f3fdc" stroke-width="0.9"/>
<polygon points="506.50,386.80 504.40,390.44 508.60,390.44" fill="#fff" stroke="#3f3fdc" stroke-width="0.9"/>
<polygon points="507.70,386.77 505.60,390.41 509.80,390.41" fill="#fff" stroke="#3f3fdc" stroke-width="0.9"/>
<polygon points="508.90,386.75 506.80,390.38 511.00,390.38" fill="#fff" stroke="#3f3fdc" stroke-width="0.9"/>
<polygon points="510.10,386.72 508.00,390.35 512.20,390.35" fill="#fff" stroke="#3f3fdc" stroke-width="0.9"/>
<polygon points="511.30,386.69 509.20,390.33 513.40,390.33" fill="#fff" stroke="#3f3fdc" stroke-width="0.9"/>
<polygon points="512.50,386.66 510.40,390.30 514.60,390.30" fill="#fff" stroke="#3f3fdc" stroke-width="0.9"/>
<polygon points="513.70,386.64 511.60,390.27 515.80,390.27" fill="#fff" stroke="#3f3fdc" stroke-width="0.9"/>
<polygon points="514.90,386.61 512.80,390.25 517.00,390.25" fill="#fff" stroke="#3f3fdc" stroke-width="0.9"/>
<polygon points="516.10,386.58 514.00,390.22 518.20,390.22" fill="#fff" stroke="#3f3fdc" stroke-width="0.9"/>
<polygon points="517.29,386.55 515.19,390.19 519.39,390.19" fill="#fff" stroke="#3f3fdc" stroke-width="0.9"/>
<polygon points="518.49,386.53 516.39,390.16 520.59,390.16" fill="#fff" stroke="#3f3fdc" stroke-width="0.9"/>
<polygon points="519.69,386.50 517.59,390.14 521.79,390.14" fill="#fff" stroke="#3f3fdc" stroke-width="0.9"/>
<polygon points="520.89,386.47 518.79,390.11 522.99,390.11" fill="#fff" stroke="#3f3fdc" stroke-width="0.9"/>
<polygon points="522.09,386.45 519.99,390.08 524.19,390.08" fill="#fff" stroke="#3f3fdc" stroke-width="0.9"/>
<polygon points="523.29,386.42 521.19,390.06 525.39,390.06" fill="#fff" stroke="#3f3fdc" stroke-width="0.9"/>
<polygon points="483.90,359.12 481.80,362.75 486.00,362.75" fill="#fff" stroke="#3f3fdc" stroke-width="0.9"/>
<polygon points="536.70,375.12 534.60,378.75 538.80,378.75" fill="#fff" stroke="#3f3fdc" stroke-width="0.9"/>
<line x1="462.2" y1="375.5" x2="462.2" y2="381" stroke="#141414" stroke-width="1.5"/>
<polygon points="461.59999999999997,371 462.8,371 463.9,376.0 460.5,376.0" fill="#141414"/>
<line x1="471.3" y1="367.3" x2="471.3" y2="374.40000000000003" stroke="#7a168c" stroke-width="2.0"/>
<polygon points="470.6,381.3 472.0,381.3 473.75,373.90000000000003 468.85,373.90000000000003" fill="#7a168c"/>
<line x1="401.9" y1="376" x2="401.9" y2="381.7" stroke="#141414" stroke-width="1.5"/>
<polygon points="401.29999999999995,386.2 402.5,386.2 403.59999999999997,381.2 400.2,381.2" fill="#141414"/>
<line x1="410.8" y1="371.2" x2="410.8" y2="379.8" stroke="#7a168c" stroke-width="2.0"/>
<polygon points="410.1,386.7 411.5,386.7 413.25,379.3 408.35,379.3" fill="#7a168c"/>
<line x1="609.7" y1="312.3" x2="609.7" y2="315.8" stroke="#141414" stroke-width="1.5"/>
<polygon points="609.1,307.8 610.3000000000001,307.8 611.4000000000001,312.8 608.0,312.8" fill="#141414"/>
<line x1="617.8" y1="309.29999999999995" x2="617.8" y2="316.6" stroke="#7a168c" stroke-width="2.0"/>
<polygon points="617.0999999999999,302.4 618.5,302.4 620.25,309.79999999999995 615.3499999999999,309.79999999999995" fill="#7a168c"/>
<line x1="544.2" y1="310.4" x2="544.2" y2="315.3" stroke="#141414" stroke-width="1.5"/>
<polygon points="543.6,319.8 544.8000000000001,319.8 545.9000000000001,314.8 542.5,314.8" fill="#141414"/>
<line x1="552.2" y1="316.0" x2="552.2" y2="323.8" stroke="#7a168c" stroke-width="2.0"/>
<polygon points="551.5,309.1 552.9000000000001,309.1 554.6500000000001,316.5 549.75,316.5" fill="#7a168c"/>
</g>
</svg></body></html>
